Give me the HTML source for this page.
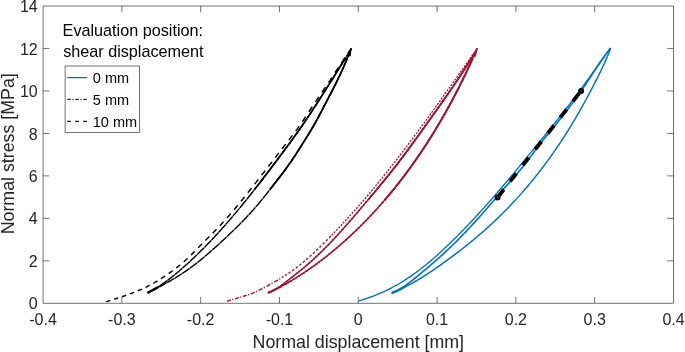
<!DOCTYPE html>
<html><head><meta charset="utf-8"><style>
html,body{margin:0;padding:0;background:#fff;}
svg{display:block;will-change:transform;}
text{font-family:"Liberation Sans",sans-serif;}
</style></head><body>
<svg xmlns="http://www.w3.org/2000/svg" width="685" height="352" viewBox="0 0 685 352">
<rect width="685" height="352" fill="#fff"/>
<g>
<path d="M106.19 301.78 106.19 301.78 106.76 301.60 107.33 301.41 107.91 301.23 108.48 301.05 109.05 300.86 109.63 300.68 110.20 300.50 110.34 300.45 M114.10 299.25 114.21 299.22 114.78 299.03 115.35 298.85 115.93 298.66 116.50 298.48 117.07 298.29 117.64 298.10 118.21 297.92 118.25 297.90 M122.01 296.66 122.21 296.59 122.78 296.40 123.35 296.20 123.92 296.01 124.48 295.81 125.05 295.62 125.62 295.42 126.15 295.23 M129.90 293.89 130.14 293.80 130.71 293.59 131.27 293.38 131.83 293.17 132.39 292.96 132.95 292.74 133.51 292.53 134.03 292.32 M137.77 290.82 137.96 290.74 138.51 290.51 139.07 290.28 139.62 290.04 140.17 289.81 140.72 289.57 141.26 289.33 141.81 289.09 141.88 289.05 M145.59 287.33 145.62 287.32 146.16 287.06 146.69 286.80 147.23 286.53 147.77 286.26 148.30 285.99 148.84 285.72 149.37 285.44 149.68 285.28 M153.36 283.27 153.59 283.14 154.11 282.84 154.63 282.55 155.15 282.24 155.67 281.94 156.19 281.63 156.70 281.32 157.22 281.01 157.41 280.90 M161.05 278.62 161.31 278.46 161.81 278.13 162.32 277.81 162.82 277.48 163.33 277.15 163.83 276.81 164.33 276.48 164.84 276.15 165.07 275.99 M168.68 273.52 168.82 273.43 169.31 273.08 169.80 272.74 170.29 272.39 170.78 272.04 171.27 271.69 171.76 271.34 172.24 270.98 172.66 270.68 M176.24 267.98 176.56 267.73 177.03 267.36 177.50 266.99 177.97 266.62 178.44 266.25 178.91 265.87 179.37 265.49 179.84 265.12 180.17 264.84 M183.70 261.84 183.95 261.63 184.40 261.23 184.84 260.83 185.29 260.43 185.73 260.03 186.17 259.62 186.62 259.22 187.06 258.81 187.49 258.40 187.56 258.34 M191.02 255.01 191.38 254.65 191.81 254.23 192.23 253.81 192.66 253.38 193.08 252.96 193.50 252.53 193.93 252.11 194.35 251.68 194.77 251.25 194.82 251.20 M198.24 247.71 198.56 247.38 198.98 246.95 199.40 246.52 199.82 246.10 200.24 245.67 200.67 245.24 201.09 244.81 201.51 244.38 201.93 243.95 202.03 243.85 M205.46 240.40 205.75 240.11 206.18 239.69 206.60 239.26 207.03 238.84 207.45 238.41 207.88 237.98 208.30 237.56 208.72 237.13 209.15 236.71 209.26 236.60 M212.69 233.14 212.96 232.87 213.38 232.44 213.80 232.01 214.23 231.58 214.65 231.15 215.07 230.72 215.49 230.29 215.90 229.86 216.32 229.43 216.48 229.27 M219.88 225.70 220.06 225.52 220.47 225.08 220.88 224.64 221.28 224.20 221.69 223.76 222.10 223.32 222.51 222.88 222.91 222.44 223.31 221.99 223.62 221.65 M226.98 217.89 227.31 217.51 227.71 217.06 228.11 216.61 228.50 216.16 228.89 215.70 229.29 215.25 229.68 214.79 230.07 214.34 230.46 213.88 230.67 213.64 M233.99 209.72 234.35 209.30 234.73 208.84 235.12 208.38 235.50 207.92 235.89 207.45 236.27 206.99 236.65 206.53 237.04 206.07 237.42 205.60 237.65 205.33 M240.94 201.31 241.23 200.96 241.61 200.49 241.99 200.03 242.37 199.56 242.75 199.09 243.13 198.63 243.50 198.16 243.88 197.69 244.26 197.23 244.57 196.84 M247.85 192.76 248.02 192.54 248.39 192.07 248.77 191.60 249.14 191.13 249.52 190.66 249.89 190.19 250.26 189.72 250.64 189.25 251.01 188.78 251.38 188.31 251.46 188.21 M254.72 184.08 254.73 184.06 255.10 183.59 255.47 183.12 255.85 182.64 256.22 182.17 256.59 181.70 256.96 181.22 257.33 180.75 257.70 180.28 258.07 179.80 258.32 179.48 M261.57 175.31 261.76 175.06 262.13 174.59 262.50 174.11 262.86 173.64 263.23 173.16 263.60 172.69 263.97 172.21 264.34 171.74 264.70 171.26 265.07 170.79 265.16 170.68 M268.40 166.48 268.75 166.03 269.11 165.56 269.48 165.08 269.85 164.60 270.22 164.13 270.58 163.65 270.95 163.18 271.32 162.70 271.68 162.23 271.98 161.84 M275.22 157.63 275.35 157.47 275.72 156.99 276.09 156.51 276.45 156.04 276.82 155.56 277.19 155.09 277.56 154.61 277.92 154.13 278.29 153.66 278.66 153.18 278.81 152.99 M282.05 148.79 282.33 148.43 282.70 147.95 283.07 147.48 283.44 147.00 283.81 146.53 284.17 146.05 284.54 145.58 284.91 145.11 285.28 144.63 285.64 144.17 M288.89 139.98 288.97 139.88 289.33 139.41 289.70 138.93 290.07 138.46 290.43 137.98 290.80 137.51 291.17 137.03 291.53 136.55 291.90 136.08 292.26 135.60 292.47 135.33 M295.69 131.06 295.88 130.81 296.23 130.32 296.59 129.84 296.95 129.36 297.30 128.87 297.66 128.39 298.01 127.90 298.36 127.41 298.71 126.93 299.06 126.44 299.22 126.22 M302.36 121.71 302.49 121.52 302.83 121.02 303.17 120.52 303.50 120.03 303.84 119.53 304.18 119.03 304.51 118.53 304.84 118.03 305.18 117.53 305.51 117.03 305.80 116.59 M308.89 111.89 309.13 111.51 309.46 111.00 309.79 110.50 310.12 110.00 310.45 109.49 310.78 108.99 311.11 108.49 311.44 107.99 311.77 107.48 312.10 106.98 312.29 106.68 M315.39 102.01 315.42 101.97 315.75 101.47 316.08 100.97 316.42 100.48 316.75 99.98 317.09 99.48 317.43 98.98 317.76 98.48 318.10 97.98 318.43 97.49 318.77 96.99 318.83 96.90 M321.95 92.30 322.14 92.01 322.48 91.52 322.81 91.02 323.15 90.52 323.49 90.02 323.82 89.53 324.16 89.03 324.50 88.53 324.83 88.03 325.17 87.53 325.39 87.20 M328.50 82.56 328.51 82.54 328.84 82.04 329.17 81.54 329.50 81.04 329.84 80.54 330.17 80.03 330.50 79.53 330.83 79.03 331.16 78.53 331.49 78.03 331.82 77.53 331.91 77.38 M335.00 72.68 335.12 72.50 335.45 72.00 335.78 71.50 336.11 71.00 336.44 70.49 336.77 69.99 337.10 69.49 337.43 68.99 337.76 68.49 338.09 67.98 338.41 67.49 M341.51 62.81 341.73 62.47 342.07 61.97 342.40 61.47 342.73 60.97 343.07 60.48 343.40 59.98 343.74 59.48 344.07 58.98 344.41 58.48 344.75 57.98 344.94 57.69 M348.07 53.12 348.14 53.02 348.48 52.53 348.82 52.04 349.17 51.54 349.51 51.05 349.86 50.56 350.20 50.07 350.55 49.58 350.89 49.09 351.24 48.59 351.24 48.59" fill="none" stroke="#000" stroke-width="1.45"/>
<path d="M148.22 292.44 149.66 291.71 151.09 290.96 152.50 290.19 153.90 289.40 155.29 288.59 156.67 287.77 158.03 286.92 159.38 286.05 160.73 285.17 162.06 284.28 163.38 283.37 164.69 282.44 165.99 281.50 167.28 280.55 168.57 279.58 169.84 278.60 171.11 277.61 172.37 276.61 173.62 275.61 174.87 274.59 176.10 273.56 177.34 272.53 178.57 271.49 179.79 270.44 181.01 269.39 182.22 268.33 183.43 267.27 184.63 266.21 185.83 265.14 187.02 264.06 188.21 262.98 189.40 261.89 190.58 260.80 191.76 259.71 192.93 258.61 194.10 257.50 195.27 256.40 196.43 255.28 197.58 254.17 198.73 253.04 199.88 251.92 201.03 250.79 202.17 249.66 203.30 248.52 204.43 247.38 205.56 246.23 206.69 245.08 207.81 243.93 208.92 242.77 210.04 241.61 211.15 240.45 212.25 239.28 213.35 238.11 214.45 236.93 215.55 235.75 216.64 234.57 217.73 233.39 218.81 232.20 219.89 231.01 220.97 229.81 222.05 228.62 223.12 227.42 224.18 226.21 225.25 225.01 226.31 223.80 227.37 222.59 228.43 221.37 229.48 220.15 230.53 218.93 231.57 217.71 232.62 216.49 233.66 215.26 234.70 214.03 235.73 212.80 236.76 211.57 237.79 210.33 238.82 209.09 239.84 207.85 240.87 206.61 241.89 205.36 242.90 204.12 243.92 202.87 244.93 201.62 245.94 200.37 246.94 199.12 247.95 197.86 248.95 196.60 249.95 195.35 250.95 194.09 251.95 192.83 252.94 191.56 253.93 190.30 254.92 189.03 255.91 187.77 256.90 186.50 257.89 185.23 258.87 183.96 259.86 182.69 260.84 181.42 261.82 180.14 262.80 178.87 263.77 177.59 264.75 176.32 265.73 175.04 266.70 173.76 267.68 172.48 268.65 171.20 269.62 169.92 270.59 168.64 271.56 167.36 272.54 166.08 273.50 164.80 274.47 163.52 275.44 162.23 276.41 160.95 277.38 159.66 278.35 158.38 279.31 157.09 280.28 155.81 281.24 154.52 282.20 153.23 283.16 151.94 284.12 150.65 285.08 149.36 286.04 148.07 286.99 146.77 287.95 145.48 288.90 144.18 289.85 142.88 290.80 141.58 291.74 140.28 292.68 138.98 293.62 137.68 294.56 136.37 295.50 135.06 296.43 133.75 297.36 132.44 298.29 131.13 299.22 129.82 300.14 128.50 301.06 127.18 301.98 125.86 302.89 124.54 303.80 123.21 304.71 121.89 305.61 120.56 306.51 119.22 307.41 117.89 308.30 116.56 309.20 115.22 310.09 113.88 310.97 112.54 311.86 111.20 312.74 109.86 313.62 108.51 314.50 107.16 315.38 105.82 316.25 104.47 317.13 103.12 318.00 101.77 318.87 100.42 319.74 99.06 320.60 97.71 321.47 96.35 322.33 95.00 323.20 93.64 324.06 92.28 324.92 90.93 325.78 89.57 326.64 88.21 327.50 86.85 328.36 85.49 329.22 84.13 330.08 82.77 330.93 81.41 331.79 80.05 332.65 78.69 333.50 77.33 334.36 75.97 335.21 74.60 336.07 73.24 336.92 71.88 337.77 70.51 338.62 69.15 339.47 67.79 340.32 66.42 341.17 65.05 342.02 63.69 342.87 62.32 343.71 60.95 344.55 59.58 345.40 58.21 346.24 56.84 347.08 55.47 347.92 54.10 348.75 52.73 349.59 51.35 350.42 49.98 351.26 48.60" fill="none" stroke="#000" stroke-width="0.60" stroke-linejoin="round"/>
<path d="M148.22 292.44 148.22 292.44 148.70 292.20 149.18 291.96 149.65 291.71 150.13 291.47 150.60 291.22 151.08 290.97 151.55 290.71 151.91 290.52 M155.96 288.19 156.18 288.06 156.64 287.78 157.09 287.50 157.55 287.22 158.00 286.94 158.45 286.65 158.90 286.36 159.35 286.08 159.61 285.91 M163.61 283.20 163.77 283.09 164.20 282.78 164.64 282.48 165.07 282.16 165.50 281.85 165.93 281.54 166.36 281.22 166.79 280.91 167.20 280.60 M171.15 277.58 171.46 277.34 171.87 277.01 172.29 276.67 172.71 276.34 173.12 276.00 173.54 275.67 173.95 275.33 174.37 274.99 174.71 274.72 M178.61 271.45 178.88 271.22 179.28 270.87 179.69 270.53 180.09 270.18 180.50 269.83 180.90 269.48 181.31 269.13 181.71 268.78 182.11 268.43 182.13 268.41 M186.01 264.98 186.11 264.88 186.51 264.52 186.90 264.17 187.30 263.81 187.70 263.45 188.09 263.09 188.49 262.73 188.88 262.37 189.27 262.01 189.50 261.80 M193.34 258.22 193.57 258.00 193.96 257.64 194.35 257.27 194.73 256.90 195.12 256.53 195.51 256.16 195.89 255.79 196.28 255.42 196.66 255.05 196.81 254.91 M200.62 251.19 200.86 250.95 201.24 250.57 201.62 250.19 202.00 249.82 202.38 249.44 202.76 249.06 203.13 248.68 203.51 248.31 203.89 247.93 204.06 247.75 M207.85 243.89 208.00 243.73 208.37 243.34 208.74 242.96 209.11 242.57 209.48 242.19 209.85 241.80 210.22 241.42 210.59 241.03 210.96 240.64 211.25 240.33 M215.01 236.33 215.35 235.97 215.71 235.58 216.07 235.19 216.43 234.79 216.80 234.40 217.16 234.01 217.52 233.61 217.88 233.22 218.24 232.82 218.39 232.66 M222.11 228.54 222.18 228.46 222.54 228.06 222.89 227.66 223.25 227.26 223.60 226.87 223.96 226.47 224.31 226.07 224.67 225.66 225.02 225.26 225.38 224.86 225.47 224.76 M229.16 220.52 229.24 220.43 229.59 220.03 229.94 219.62 230.29 219.22 230.63 218.81 230.98 218.40 231.33 218.00 231.68 217.59 232.02 217.18 232.37 216.78 232.49 216.64 M236.16 212.29 236.16 212.28 236.51 211.87 236.85 211.46 237.19 211.05 237.53 210.64 237.87 210.23 238.22 209.82 238.56 209.41 238.90 209.00 239.24 208.59 239.46 208.31 M243.10 203.87 243.30 203.63 243.64 203.21 243.97 202.80 244.31 202.38 244.65 201.97 244.98 201.55 245.32 201.14 245.65 200.72 245.99 200.30 246.32 199.89 246.38 199.81 M250.00 195.28 250.32 194.88 250.65 194.46 250.98 194.04 251.32 193.62 251.65 193.21 251.98 192.79 252.31 192.37 252.64 191.95 252.97 191.53 253.26 191.15 M256.86 186.55 256.92 186.48 257.24 186.06 257.57 185.64 257.90 185.22 258.23 184.79 258.55 184.37 258.88 183.95 259.21 183.53 259.53 183.11 259.86 182.68 260.11 182.37 M263.69 177.71 263.77 177.60 264.09 177.18 264.42 176.76 264.74 176.33 265.06 175.91 265.39 175.48 265.71 175.06 266.04 174.64 266.36 174.21 266.68 173.79 266.92 173.48 M270.49 168.78 270.56 168.68 270.89 168.26 271.21 167.83 271.53 167.41 271.85 166.98 272.18 166.56 272.50 166.13 272.82 165.70 273.14 165.28 273.46 164.85 273.71 164.52 M277.27 159.80 277.33 159.73 277.65 159.31 277.97 158.88 278.29 158.45 278.61 158.03 278.93 157.60 279.25 157.17 279.57 156.74 279.89 156.32 280.21 155.89 280.49 155.52 M284.04 150.76 284.05 150.75 284.37 150.32 284.68 149.89 285.00 149.46 285.32 149.03 285.64 148.61 285.96 148.18 286.27 147.75 286.59 147.32 286.91 146.89 287.23 146.46 287.25 146.43 M290.78 141.61 291.01 141.28 291.33 140.85 291.64 140.42 291.95 139.99 292.27 139.55 292.58 139.12 292.89 138.69 293.21 138.26 293.52 137.82 293.83 137.39 293.96 137.21 M297.46 132.30 297.56 132.17 297.86 131.74 298.17 131.30 298.48 130.86 298.79 130.43 299.10 129.99 299.40 129.55 299.71 129.12 300.02 128.68 300.32 128.24 300.62 127.81 M304.09 122.79 304.27 122.53 304.57 122.09 304.87 121.65 305.17 121.20 305.47 120.76 305.77 120.32 306.07 119.88 306.37 119.44 306.67 118.99 306.97 118.55 307.21 118.19 M310.64 113.05 310.82 112.78 311.11 112.33 311.41 111.88 311.70 111.44 312.00 110.99 312.29 110.55 312.58 110.10 312.88 109.65 313.17 109.21 313.46 108.76 313.73 108.36 M317.12 103.12 317.24 102.94 317.53 102.49 317.82 102.04 318.11 101.59 318.40 101.14 318.69 100.69 318.98 100.24 319.27 99.79 319.56 99.34 319.84 98.90 320.13 98.45 320.19 98.36 M323.56 93.06 323.58 93.04 323.87 92.59 324.15 92.14 324.44 91.69 324.72 91.24 325.01 90.79 325.30 90.33 325.58 89.88 325.87 89.43 326.15 88.98 326.44 88.53 326.61 88.25 M329.98 82.93 330.15 82.66 330.43 82.21 330.72 81.75 331.00 81.30 331.29 80.85 331.57 80.40 331.86 79.95 332.14 79.49 332.43 79.04 332.71 78.59 332.99 78.14 333.02 78.10 M336.38 72.75 336.40 72.71 336.69 72.25 336.97 71.80 337.25 71.35 337.53 70.89 337.82 70.44 338.10 69.99 338.38 69.53 338.67 69.08 338.95 68.63 339.23 68.17 339.41 67.89 M342.75 62.50 342.89 62.27 343.17 61.82 343.46 61.37 343.74 60.91 344.02 60.46 344.30 60.00 344.58 59.55 344.86 59.09 345.14 58.64 345.42 58.18 345.70 57.73 345.77 57.61 M349.10 52.17 349.32 51.80 349.60 51.35 349.87 50.89 350.15 50.43 350.43 49.98 350.70 49.52 350.98 49.06 351.26 48.60 351.26 48.60" fill="none" stroke="#000" stroke-width="1.40"/>
<path d="M148.22 292.44 148.22 292.44 148.31 292.39 M152.39 290.25 152.49 290.20 152.95 289.94 153.42 289.68 153.88 289.41 154.35 289.14 154.81 288.88 155.27 288.61 155.73 288.33 156.06 288.13 M160.08 285.60 160.24 285.49 160.69 285.20 161.13 284.90 161.57 284.61 162.01 284.31 162.45 284.01 162.89 283.70 163.33 283.40 163.70 283.14 M167.67 280.25 168.08 279.95 168.50 279.63 168.93 279.30 169.35 278.98 169.77 278.65 170.19 278.33 170.62 278.00 171.04 277.67 171.25 277.50 M175.17 274.33 175.19 274.32 175.61 273.97 176.02 273.63 176.43 273.29 176.84 272.95 177.25 272.60 177.66 272.26 178.06 271.91 178.47 271.57 178.71 271.37 M182.59 268.00 182.92 267.72 183.32 267.37 183.72 267.02 184.12 266.66 184.52 266.31 184.92 265.95 185.31 265.60 185.71 265.24 186.10 264.89 M189.96 261.38 190.06 261.28 190.45 260.92 190.84 260.56 191.23 260.20 191.63 259.83 192.02 259.47 192.41 259.10 192.80 258.74 193.18 258.37 193.44 258.13 M197.26 254.47 197.43 254.31 197.81 253.94 198.20 253.57 198.58 253.19 198.96 252.82 199.34 252.45 199.72 252.07 200.10 251.70 200.48 251.32 200.71 251.10 M204.51 247.29 204.64 247.17 205.01 246.79 205.39 246.41 205.76 246.02 206.14 245.64 206.51 245.26 206.88 244.88 207.25 244.50 207.63 244.11 207.94 243.79 M211.70 239.86 212.06 239.48 212.43 239.09 212.79 238.70 213.16 238.31 213.52 237.92 213.89 237.53 214.25 237.14 214.62 236.75 214.98 236.36 215.10 236.24 M218.83 232.17 218.96 232.03 219.32 231.64 219.68 231.24 220.04 230.85 220.40 230.45 220.75 230.05 221.11 229.66 221.47 229.26 221.83 228.86 222.18 228.46 222.20 228.44 M225.91 224.26 226.08 224.06 226.43 223.66 226.78 223.26 227.14 222.85 227.49 222.45 227.84 222.05 228.19 221.64 228.54 221.24 228.89 220.83 229.24 220.43 229.25 220.42 M232.93 216.12 233.06 215.96 233.41 215.56 233.75 215.15 234.10 214.74 234.44 214.33 234.79 213.92 235.13 213.51 235.48 213.10 235.82 212.69 236.16 212.28 236.24 212.19 M239.90 207.79 239.92 207.76 240.26 207.35 240.60 206.94 240.94 206.52 241.27 206.11 241.61 205.70 241.95 205.28 242.29 204.87 242.63 204.46 242.96 204.04 243.19 203.77 M246.82 199.28 246.99 199.06 247.33 198.64 247.66 198.22 247.99 197.80 248.33 197.39 248.66 196.97 248.99 196.55 249.32 196.13 249.66 195.72 249.99 195.30 250.09 195.18 M253.69 190.61 253.96 190.27 254.29 189.85 254.62 189.43 254.95 189.01 255.27 188.59 255.60 188.17 255.93 187.74 256.26 187.32 256.59 186.90 256.92 186.48 256.94 186.44 M260.53 181.81 260.84 181.42 261.16 180.99 261.49 180.57 261.82 180.15 262.14 179.72 262.47 179.30 262.79 178.88 263.12 178.45 263.44 178.03 263.77 177.60 263.77 177.60 M267.34 172.92 267.66 172.51 267.98 172.09 268.30 171.66 268.63 171.24 268.95 170.81 269.27 170.39 269.59 169.96 269.92 169.54 270.24 169.11 270.56 168.68 270.57 168.67 M274.14 163.96 274.43 163.57 274.75 163.15 275.07 162.72 275.40 162.29 275.72 161.87 276.04 161.44 276.36 161.01 276.68 160.59 277.00 160.16 277.33 159.73 277.36 159.69 M280.91 154.95 281.17 154.61 281.49 154.18 281.81 153.75 282.13 153.32 282.45 152.89 282.77 152.47 283.09 152.04 283.41 151.61 283.73 151.18 284.05 150.75 284.13 150.65 M287.67 145.86 287.86 145.60 288.18 145.16 288.49 144.73 288.81 144.30 289.12 143.87 289.44 143.44 289.75 143.01 290.07 142.58 290.38 142.15 290.70 141.72 290.86 141.49 M294.38 136.63 294.46 136.52 294.77 136.09 295.08 135.65 295.39 135.22 295.70 134.78 296.01 134.35 296.32 133.91 296.63 133.48 296.94 133.04 297.25 132.61 297.55 132.18 M301.03 127.22 301.24 126.93 301.54 126.49 301.85 126.05 302.15 125.61 302.45 125.17 302.76 124.73 303.06 124.29 303.36 123.85 303.66 123.41 303.97 122.97 304.17 122.67 M307.62 117.58 307.86 117.22 308.16 116.78 308.45 116.33 308.75 115.89 309.05 115.45 309.34 115.00 309.64 114.56 309.93 114.11 310.23 113.67 310.52 113.22 310.72 112.93 M314.13 107.73 314.34 107.42 314.63 106.97 314.92 106.52 315.21 106.08 315.50 105.63 315.79 105.18 316.08 104.73 316.37 104.28 316.66 103.84 316.95 103.39 317.20 103.00 M320.59 97.73 320.71 97.55 321.00 97.10 321.28 96.65 321.57 96.20 321.86 95.74 322.15 95.29 322.43 94.84 322.72 94.39 323.01 93.94 323.29 93.49 323.58 93.04 323.65 92.94 M327.01 87.62 327.30 87.17 327.58 86.72 327.87 86.27 328.15 85.82 328.44 85.37 328.72 84.92 329.01 84.46 329.29 84.01 329.58 83.56 329.86 83.11 330.06 82.80 M333.42 77.46 333.56 77.23 333.85 76.78 334.13 76.33 334.42 75.87 334.70 75.42 334.98 74.97 335.27 74.52 335.55 74.06 335.83 73.61 336.12 73.16 336.40 72.71 336.46 72.62 M339.81 67.25 340.08 66.81 340.36 66.36 340.64 65.91 340.92 65.45 341.21 65.00 341.49 64.55 341.77 64.09 342.05 63.64 342.33 63.18 342.61 62.73 342.83 62.37 M346.17 56.96 346.26 56.82 346.53 56.36 346.81 55.91 347.09 55.45 347.37 54.99 347.65 54.54 347.93 54.08 348.21 53.63 348.48 53.17 348.76 52.71 349.04 52.26 349.17 52.04" fill="none" stroke="#000" stroke-width="1.40"/>
<path d="M148.19 292.37 149.65 291.65 151.11 290.94 152.56 290.21 154.02 289.49 155.47 288.75 156.92 288.01 158.37 287.27 159.82 286.51 161.26 285.75 162.70 284.99 164.13 284.21 165.57 283.43 166.99 282.64 168.42 281.85 169.84 281.04 171.25 280.23 172.66 279.41 174.06 278.58 175.46 277.74 176.85 276.89 178.24 276.03 179.62 275.17 180.99 274.29 182.36 273.40 183.72 272.50 185.07 271.60 186.41 270.68 187.75 269.75 189.07 268.81 190.39 267.85 191.70 266.89 193.01 265.92 194.30 264.94 195.59 263.95 196.88 262.95 198.15 261.94 199.42 260.92 200.69 259.90 201.95 258.87 203.20 257.83 204.45 256.78 205.69 255.73 206.93 254.68 208.17 253.61 209.40 252.55 210.63 251.47 211.85 250.40 213.07 249.31 214.29 248.23 215.50 247.14 216.71 246.05 217.92 244.96 219.13 243.86 220.33 242.76 221.54 241.66 222.74 240.56 223.94 239.45 225.13 238.34 226.32 237.23 227.51 236.11 228.70 234.99 229.88 233.87 231.06 232.75 232.24 231.62 233.41 230.48 234.58 229.35 235.74 228.21 236.90 227.06 238.06 225.92 239.21 224.76 240.36 223.61 241.50 222.45 242.63 221.28 243.77 220.11 244.89 218.94 246.01 217.76 247.13 216.57 248.24 215.38 249.34 214.19 250.44 212.98 251.53 211.78 252.62 210.57 253.70 209.35 254.77 208.13 255.84 206.90 256.90 205.66 257.95 204.42 259.00 203.17 260.04 201.92 261.07 200.66 262.10 199.40 263.12 198.13 264.14 196.86 265.16 195.59 266.17 194.31 267.18 193.03 268.18 191.75 269.19 190.47 270.19 189.18 271.20 187.90 272.20 186.61 273.20 185.33 274.20 184.04 275.21 182.76 276.21 181.48 277.21 180.19 278.21 178.91 279.21 177.62 280.21 176.33 281.20 175.04 282.19 173.74 283.17 172.45 284.15 171.15 285.12 169.84 286.08 168.53 287.04 167.21 287.99 165.89 288.93 164.57 289.87 163.23 290.79 161.89 291.71 160.55 292.62 159.20 293.52 157.84 294.42 156.49 295.31 155.12 296.20 153.76 297.08 152.39 297.96 151.02 298.84 149.65 299.71 148.27 300.58 146.90 301.46 145.52 302.33 144.14 303.20 142.77 304.07 141.39 304.94 140.01 305.81 138.63 306.67 137.25 307.53 135.87 308.39 134.48 309.24 133.09 310.08 131.70 310.92 130.30 311.75 128.91 312.58 127.50 313.39 126.10 314.20 124.68 315.00 123.27 315.80 121.85 316.58 120.42 317.36 118.99 318.13 117.56 318.90 116.12 319.66 114.69 320.42 113.25 321.18 111.80 321.93 110.36 322.68 108.92 323.43 107.47 324.19 106.03 324.94 104.58 325.70 103.14 326.45 101.70 327.21 100.25 327.96 98.81 328.72 97.37 329.47 95.92 330.22 94.48 330.97 93.03 331.72 91.58 332.47 90.14 333.21 88.68 333.95 87.23 334.68 85.78 335.41 84.32 336.13 82.86 336.85 81.40 337.56 79.94 338.27 78.47 338.97 77.00 339.67 75.53 340.36 74.05 341.04 72.58 341.72 71.10 342.40 69.62 343.07 68.13 343.73 66.64 344.38 65.15 345.04 63.66 345.68 62.16 346.32 60.67 346.95 59.17 347.58 57.66 348.20 56.16 348.82 54.65 349.43 53.14 350.04 51.63 350.64 50.11 351.24 48.60" fill="none" stroke="#000" stroke-width="0.50" stroke-linejoin="round"/>
<path d="M148.19 292.37 148.19 292.37 148.67 292.13 149.16 291.89 149.64 291.66 150.13 291.42 150.61 291.18 150.92 291.03 M155.01 288.99 155.45 288.76 155.93 288.52 156.41 288.27 156.89 288.03 157.37 287.78 157.85 287.53 158.34 287.28 158.70 287.09 M162.78 284.94 163.13 284.76 163.60 284.50 164.08 284.24 164.56 283.98 165.03 283.72 165.51 283.46 165.98 283.20 166.46 282.94 M170.52 280.65 170.71 280.54 171.18 280.27 171.64 280.00 172.11 279.73 172.58 279.46 173.05 279.18 173.51 278.90 173.98 278.63 174.18 278.51 M178.21 276.05 178.60 275.81 179.06 275.52 179.52 275.23 179.97 274.94 180.43 274.65 180.89 274.36 181.34 274.06 181.80 273.77 181.85 273.73 M185.86 271.05 186.29 270.76 186.73 270.45 187.18 270.14 187.62 269.83 188.06 269.52 188.50 269.21 188.94 268.90 189.38 268.58 189.47 268.52 M193.43 265.60 193.73 265.37 194.16 265.05 194.59 264.72 195.02 264.39 195.45 264.06 195.87 263.73 196.30 263.40 196.73 263.06 197.01 262.84 M200.93 259.70 200.95 259.69 201.36 259.34 201.78 259.00 202.20 258.66 202.62 258.31 203.03 257.97 203.45 257.62 203.86 257.27 204.28 256.93 204.47 256.76 M208.37 253.44 208.40 253.42 208.80 253.06 209.21 252.71 209.62 252.35 210.03 251.99 210.44 251.64 210.84 251.28 211.25 250.92 211.66 250.56 211.88 250.37 M215.75 246.91 216.10 246.60 216.51 246.24 216.91 245.87 217.31 245.51 217.71 245.15 218.11 244.78 218.51 244.42 218.92 244.05 219.25 243.75 M223.10 240.22 223.31 240.03 223.71 239.66 224.11 239.29 224.50 238.92 224.90 238.55 225.30 238.19 225.69 237.82 226.09 237.45 226.49 237.08 226.58 236.98 M230.42 233.36 230.42 233.36 230.81 232.98 231.21 232.61 231.60 232.23 231.99 231.86 232.38 231.48 232.77 231.11 233.16 230.73 233.54 230.35 233.88 230.03 M237.69 226.28 237.79 226.18 238.18 225.80 238.56 225.42 238.94 225.03 239.32 224.65 239.70 224.27 240.08 223.88 240.46 223.50 240.84 223.11 241.12 222.83 M244.90 218.93 244.98 218.84 245.36 218.45 245.73 218.05 246.10 217.66 246.47 217.27 246.84 216.88 247.21 216.48 247.58 216.09 247.95 215.69 248.30 215.32 M252.03 211.23 252.32 210.90 252.68 210.50 253.04 210.09 253.40 209.69 253.76 209.28 254.12 208.88 254.47 208.47 254.83 208.06 255.18 207.65 255.38 207.43 M259.05 203.11 259.38 202.71 259.73 202.29 260.07 201.88 260.42 201.46 260.76 201.04 261.10 200.62 261.44 200.20 261.79 199.78 262.13 199.36 262.34 199.09 M265.96 194.57 266.18 194.29 266.52 193.87 266.85 193.44 267.19 193.02 267.52 192.59 267.86 192.16 268.19 191.74 268.53 191.31 268.86 190.89 269.19 190.46 269.22 190.43 M272.82 185.82 272.86 185.76 273.19 185.34 273.53 184.91 273.86 184.48 274.19 184.06 274.53 183.63 274.86 183.20 275.19 182.78 275.53 182.35 275.86 181.93 276.07 181.66 M279.66 177.04 279.85 176.80 280.18 176.37 280.51 175.94 280.84 175.51 281.16 175.08 281.49 174.65 281.82 174.22 282.15 173.79 282.48 173.36 282.80 172.93 282.89 172.81 M286.44 168.04 286.67 167.72 286.99 167.29 287.31 166.85 287.62 166.41 287.94 165.97 288.25 165.53 288.56 165.09 288.88 164.65 289.19 164.21 289.50 163.76 289.61 163.60 M293.06 158.53 293.15 158.40 293.45 157.95 293.75 157.50 294.04 157.05 294.34 156.60 294.64 156.14 294.94 155.69 295.23 155.24 295.53 154.79 295.82 154.33 296.12 153.88 296.15 153.83 M299.53 148.55 299.62 148.41 299.91 147.95 300.20 147.50 300.49 147.04 300.78 146.58 301.07 146.13 301.36 145.67 301.65 145.21 301.94 144.75 302.23 144.30 302.52 143.84 302.58 143.75 M305.94 138.41 305.99 138.34 306.27 137.89 306.56 137.43 306.85 136.97 307.13 136.51 307.42 136.05 307.70 135.59 307.99 135.13 308.27 134.67 308.55 134.21 308.84 133.75 308.97 133.53 M312.27 128.03 312.45 127.72 312.72 127.25 313.00 126.78 313.27 126.31 313.54 125.85 313.81 125.38 314.08 124.91 314.34 124.44 314.61 123.97 314.87 123.50 315.14 123.03 315.20 122.91 M318.38 117.09 318.51 116.86 318.76 116.38 319.01 115.90 319.27 115.42 319.52 114.95 319.77 114.47 320.03 113.99 320.28 113.51 320.53 113.03 320.78 112.55 321.03 112.08 321.22 111.72 M324.33 105.75 324.54 105.36 324.79 104.88 325.04 104.40 325.29 103.92 325.54 103.44 325.79 102.96 326.04 102.48 326.29 102.00 326.54 101.52 326.79 101.04 327.04 100.56 327.15 100.35 M330.27 94.39 330.30 94.33 330.55 93.85 330.80 93.37 331.05 92.89 331.30 92.41 331.55 91.92 331.79 91.44 332.04 90.96 332.29 90.48 332.54 90.00 332.78 89.52 333.03 89.04 333.07 88.95 M336.13 82.85 336.19 82.75 336.42 82.26 336.66 81.78 336.90 81.29 337.14 80.81 337.37 80.32 337.61 79.83 337.85 79.35 338.08 78.86 338.32 78.37 338.55 77.88 338.78 77.40 338.86 77.23 M341.81 70.90 341.98 70.53 342.20 70.04 342.43 69.55 342.65 69.05 342.87 68.56 343.09 68.07 343.31 67.57 343.53 67.08 343.75 66.58 343.97 66.09 344.19 65.59 344.41 65.10 344.43 65.06 M347.25 58.46 347.38 58.13 347.59 57.63 347.80 57.13 348.01 56.63 348.21 56.13 348.42 55.63 348.62 55.13 348.83 54.63 349.03 54.13 349.24 53.63 349.44 53.12 349.64 52.62 349.74 52.38" fill="none" stroke="#000" stroke-width="1.40"/>
<path d="M151.50 290.74 151.58 290.70 152.06 290.46 152.55 290.22 153.03 289.98 153.52 289.74 154.00 289.50 154.48 289.25 154.96 289.01 155.20 288.89 M159.28 286.79 159.30 286.78 159.78 286.53 160.26 286.28 160.74 286.03 161.21 285.78 161.69 285.52 162.17 285.27 162.65 285.01 162.97 284.84 M167.04 282.62 167.40 282.41 167.88 282.15 168.35 281.88 168.82 281.62 169.29 281.35 169.77 281.08 170.24 280.81 170.71 280.54 170.71 280.54 M174.76 278.16 174.91 278.07 175.37 277.79 175.84 277.51 176.30 277.23 176.76 276.95 177.22 276.66 177.68 276.38 178.14 276.09 178.41 275.93 M182.43 273.35 182.70 273.18 183.15 272.88 183.60 272.58 184.05 272.28 184.50 271.98 184.95 271.67 185.40 271.37 185.84 271.06 186.05 270.92 M190.03 268.11 190.26 267.95 190.70 267.63 191.13 267.31 191.57 266.99 192.00 266.67 192.43 266.35 192.87 266.02 193.30 265.70 193.62 265.45 M197.57 262.40 197.57 262.40 198.00 262.06 198.42 261.72 198.84 261.39 199.27 261.05 199.69 260.71 200.11 260.37 200.53 260.03 200.95 259.69 201.12 259.54 M205.03 256.29 205.11 256.23 205.52 255.88 205.93 255.53 206.34 255.18 206.75 254.83 207.17 254.48 207.58 254.12 207.99 253.77 208.40 253.42 208.55 253.28 M212.44 249.87 212.47 249.85 212.87 249.49 213.28 249.13 213.68 248.77 214.09 248.41 214.49 248.05 214.89 247.68 215.30 247.32 215.70 246.96 215.94 246.75 M219.80 243.25 220.12 242.96 220.52 242.59 220.92 242.23 221.32 241.86 221.72 241.50 222.12 241.13 222.51 240.76 222.91 240.39 223.29 240.05 M227.13 236.47 227.28 236.34 227.67 235.96 228.06 235.59 228.46 235.22 228.85 234.85 229.25 234.48 229.64 234.10 230.03 233.73 230.42 233.36 230.60 233.18 M234.43 229.50 234.71 229.22 235.10 228.84 235.48 228.46 235.87 228.08 236.25 227.70 236.64 227.32 237.02 226.94 237.41 226.56 237.79 226.18 237.87 226.10 M241.66 222.28 241.98 221.95 242.36 221.56 242.73 221.18 243.11 220.79 243.49 220.40 243.86 220.01 244.24 219.62 244.61 219.23 244.98 218.84 245.08 218.74 M248.83 214.74 249.05 214.50 249.42 214.10 249.78 213.70 250.15 213.31 250.51 212.91 250.88 212.51 251.24 212.10 251.60 211.70 251.96 211.30 252.20 211.03 M255.90 206.82 256.24 206.43 256.59 206.02 256.95 205.61 257.30 205.19 257.65 204.78 257.99 204.37 258.34 203.95 258.69 203.54 259.04 203.12 259.22 202.90 M262.86 198.45 263.15 198.10 263.49 197.68 263.82 197.26 264.16 196.83 264.50 196.41 264.84 195.99 265.17 195.56 265.51 195.14 265.85 194.72 266.13 194.35 M269.73 189.77 269.86 189.61 270.19 189.18 270.53 188.75 270.86 188.33 271.19 187.90 271.53 187.47 271.86 187.05 272.19 186.62 272.53 186.19 272.86 185.76 272.99 185.60 M276.58 181.00 276.86 180.65 277.19 180.22 277.52 179.79 277.86 179.36 278.19 178.94 278.52 178.51 278.85 178.08 279.18 177.65 279.51 177.23 279.83 176.82 M283.40 172.14 283.45 172.07 283.78 171.64 284.10 171.20 284.43 170.77 284.75 170.34 285.07 169.90 285.39 169.47 285.71 169.03 286.03 168.60 286.35 168.16 286.61 167.81 M290.11 162.88 290.11 162.88 290.42 162.43 290.73 161.99 291.03 161.54 291.34 161.09 291.64 160.65 291.94 160.20 292.25 159.75 292.55 159.30 292.85 158.85 293.15 158.40 293.23 158.28 M296.63 153.08 296.70 152.97 297.00 152.52 297.29 152.06 297.58 151.60 297.88 151.15 298.17 150.69 298.46 150.24 298.75 149.78 299.04 149.32 299.33 148.87 299.62 148.41 299.69 148.30 M303.06 142.99 303.10 142.93 303.39 142.47 303.68 142.01 303.97 141.55 304.26 141.09 304.55 140.64 304.83 140.18 305.12 139.72 305.41 139.26 305.70 138.80 305.99 138.34 306.10 138.16 M309.44 132.75 309.68 132.36 309.96 131.90 310.24 131.43 310.52 130.97 310.80 130.51 311.08 130.04 311.35 129.58 311.63 129.11 311.90 128.65 312.18 128.18 312.43 127.76 M315.66 122.09 315.66 122.08 315.93 121.61 316.19 121.13 316.45 120.66 316.71 120.19 316.97 119.71 317.22 119.24 317.48 118.76 317.74 118.29 318.00 117.81 318.25 117.33 318.51 116.86 318.53 116.81 M321.66 110.87 321.78 110.64 322.04 110.16 322.29 109.68 322.54 109.20 322.79 108.72 323.04 108.24 323.29 107.76 323.54 107.28 323.79 106.80 324.04 106.32 324.29 105.84 324.48 105.47 M327.60 99.50 327.80 99.13 328.05 98.65 328.30 98.17 328.55 97.69 328.80 97.21 329.05 96.73 329.30 96.25 329.55 95.77 329.80 95.29 330.05 94.81 330.30 94.33 330.42 94.10 M333.51 88.08 333.52 88.07 333.76 87.59 334.01 87.11 334.25 86.62 334.50 86.14 334.74 85.66 334.98 85.17 335.22 84.69 335.47 84.20 335.71 83.72 335.95 83.23 336.19 82.75 336.28 82.56 M339.28 76.34 339.48 75.93 339.71 75.44 339.94 74.95 340.17 74.46 340.40 73.97 340.62 73.48 340.85 72.99 341.08 72.50 341.31 72.01 341.53 71.52 341.76 71.02 341.95 70.60 M344.83 64.12 344.84 64.11 345.06 63.61 345.27 63.11 345.49 62.62 345.70 62.12 345.91 61.62 346.12 61.12 346.34 60.63 346.55 60.13 346.76 59.63 346.97 59.13 347.18 58.63 347.38 58.14 M350.13 51.41 350.25 51.11 350.45 50.61 350.65 50.11 350.84 49.60 351.04 49.10 351.24 48.60 351.24 48.60" fill="none" stroke="#000" stroke-width="1.40"/>
<path d="M227.07 301.21 227.07 301.21 227.63 301.02 228.19 300.83 228.76 300.64 229.33 300.46 229.89 300.28 230.46 300.10 230.92 299.96 M232.21 299.56 232.74 299.41 233.31 299.24 233.40 299.21 M234.98 298.75 235.03 298.74 235.60 298.57 236.18 298.40 236.75 298.24 237.32 298.08 237.90 297.91 238.47 297.75 238.85 297.64 M240.13 297.27 240.19 297.25 240.76 297.09 241.32 296.92 M242.91 296.45 243.05 296.41 243.62 296.24 244.19 296.06 244.76 295.89 245.32 295.71 245.89 295.53 246.46 295.35 246.77 295.24 M248.05 294.82 248.15 294.78 248.71 294.59 249.23 294.40 M250.81 293.82 250.94 293.78 251.49 293.57 252.04 293.35 252.59 293.13 253.14 292.91 253.69 292.68 254.23 292.45 254.64 292.27 M255.91 291.70 256.40 291.48 256.93 291.23 257.09 291.16 M258.65 290.41 259.07 290.20 259.61 289.94 260.14 289.68 260.67 289.41 261.20 289.14 261.73 288.87 262.26 288.60 262.44 288.50 M263.70 287.84 263.84 287.77 264.37 287.50 264.87 287.23 M266.42 286.41 266.48 286.38 267.00 286.10 267.53 285.82 268.05 285.53 268.58 285.25 269.10 284.97 269.63 284.68 270.15 284.39 270.20 284.37 M271.46 283.67 271.72 283.53 272.24 283.24 272.62 283.03 M274.16 282.16 274.32 282.07 274.84 281.77 275.35 281.48 275.87 281.18 276.39 280.88 276.90 280.58 277.42 280.28 277.93 279.98 M279.18 279.24 279.47 279.06 279.98 278.75 280.33 278.54 M281.87 277.60 282.02 277.51 282.53 277.19 283.03 276.88 283.54 276.56 283.54 276.56" fill="none" stroke="#A2142F" stroke-width="1.45"/>
<path d="M285.08 275.58 285.08 275.58 285.58 275.26 286.08 274.94 286.58 274.61 286.84 274.44 M288.42 273.39 288.56 273.29 289.05 272.96 289.54 272.62 290.03 272.28 290.52 271.94 290.56 271.92 M292.12 270.82 292.47 270.57 292.95 270.23 293.43 269.88 293.92 269.53 294.22 269.30 M295.75 268.16 295.82 268.11 296.30 267.75 296.77 267.39 297.24 267.02 297.71 266.66 297.81 266.58 M299.30 265.41 299.58 265.19 300.05 264.82 300.51 264.44 300.97 264.07 301.33 263.78 M302.80 262.57 302.81 262.56 303.27 262.17 303.72 261.79 304.18 261.41 304.63 261.02 304.78 260.89 M306.22 259.65 306.44 259.47 306.89 259.08 307.33 258.68 307.78 258.29 308.18 257.94 M309.60 256.68 310.00 256.31 310.44 255.91 310.89 255.51 311.33 255.11 311.52 254.93 M312.92 253.64 313.08 253.49 313.52 253.08 313.95 252.68 314.39 252.27 314.82 251.87 M316.20 250.56 316.55 250.22 316.98 249.81 317.42 249.40 317.85 248.98 318.08 248.76 M319.44 247.44 319.56 247.32 319.99 246.91 320.42 246.49 320.84 246.08 321.27 245.66 321.30 245.62 M322.66 244.29 322.97 243.99 323.39 243.57 323.81 243.15 324.24 242.73 324.50 242.46 M325.85 241.12 325.93 241.04 326.35 240.62 326.77 240.20 327.19 239.78 327.61 239.35 327.68 239.28 M329.02 237.93 329.28 237.66 329.70 237.23 330.12 236.81 330.53 236.38 330.84 236.07" fill="none" stroke="#A2142F" stroke-width="1.4"/>
<path d="M331.78 235.11 331.78 235.11 332.20 234.67 332.62 234.24 332.97 233.89 M333.87 232.95 333.88 232.94 334.30 232.50 334.72 232.07 335.14 231.63 335.26 231.51 M336.16 230.57 336.39 230.32 336.81 229.89 337.23 229.45 337.54 229.12 M338.43 228.18 338.47 228.13 338.89 227.70 339.30 227.26 339.72 226.82 339.80 226.73 M340.69 225.78 340.96 225.50 341.37 225.06 341.78 224.61 342.06 224.32 M342.95 223.37 343.02 223.29 343.43 222.85 343.84 222.40 344.25 221.96 344.31 221.90 M345.19 220.94 345.48 220.63 345.88 220.19 346.29 219.74 346.54 219.47 M347.42 218.51 347.51 218.40 347.92 217.96 348.33 217.51 348.73 217.07 348.76 217.03 M349.64 216.07 349.95 215.72 350.35 215.28 350.76 214.83 350.98 214.58 M351.84 213.62 351.97 213.48 352.37 213.03 352.77 212.58 353.17 212.13 353.18 212.13 M354.04 211.16 354.38 210.78 354.78 210.33 355.18 209.88 355.37 209.66 M356.23 208.69 356.38 208.52 356.78 208.07 357.17 207.61 357.55 207.18 M358.41 206.21 358.77 205.80 359.16 205.34 359.56 204.89 359.72 204.70 M360.58 203.72 360.75 203.52 361.14 203.07 361.54 202.61 361.89 202.21 M362.73 201.22 363.11 200.78 363.51 200.32 363.90 199.87 364.04 199.70 M364.88 198.72 365.08 198.49 365.47 198.03 365.86 197.57 366.18 197.19 M367.02 196.20 367.03 196.19 367.42 195.73 367.81 195.27 368.20 194.81 368.31 194.68 M369.15 193.68 369.37 193.43 369.76 192.96 370.14 192.50 370.44 192.15 M371.27 191.15 371.31 191.11 371.69 190.65 372.08 190.19 372.47 189.72 372.55 189.62 M373.38 188.62 373.62 188.33 374.01 187.86 374.39 187.40 374.66 187.08 M375.49 186.07 375.55 186.00 375.93 185.54 376.31 185.07 376.70 184.60 376.76 184.53 M377.58 183.52 377.84 183.20 378.23 182.73 378.61 182.27 378.85 181.98 M379.67 180.97 379.75 180.86 380.13 180.39 380.51 179.92 380.89 179.46 380.93 179.41 M381.74 178.40 382.03 178.05 382.41 177.58 382.79 177.11 383.00 176.85 M383.81 175.83 383.92 175.69 384.30 175.22 384.68 174.75 385.05 174.28 385.06 174.27 M385.87 173.26 386.19 172.86 386.56 172.39 386.94 171.92 387.12 171.69 M387.93 170.67 388.06 170.50 388.44 170.03 388.81 169.55 389.17 169.10 M389.97 168.08 390.31 167.66 390.68 167.18 391.06 166.71 391.21 166.51 M392.01 165.49 392.17 165.28 392.55 164.81 392.92 164.33 393.24 163.91 M394.04 162.89 394.41 162.42 394.78 161.95 395.15 161.47 395.27 161.31 M396.07 160.28 396.26 160.04 396.63 159.56 397.00 159.08 397.29 158.70 M398.09 157.67 398.11 157.65 398.47 157.17 398.84 156.69 399.21 156.21 399.31 156.09 M400.10 155.06 400.31 154.77 400.68 154.29 401.05 153.82 401.32 153.47 M402.10 152.43 402.15 152.37 402.52 151.89 402.88 151.41 403.25 150.93 403.32 150.84 M404.10 149.81 404.35 149.49 404.71 149.01 405.08 148.53 405.31 148.22 M406.10 147.18 406.17 147.08 406.53 146.60 406.90 146.12 407.26 145.63 407.30 145.58 M408.08 144.54 408.35 144.19 408.72 143.70 409.08 143.22 409.29 142.95 M410.07 141.91 410.17 141.77 410.53 141.28 410.89 140.80 411.25 140.32 411.26 140.30 M412.04 139.26 412.34 138.86 412.70 138.38 413.06 137.89 413.24 137.66 M414.01 136.62 414.14 136.44 414.51 135.95 414.87 135.47 415.21 135.01 M415.98 133.97 416.31 133.53 416.66 133.04 417.02 132.55 417.17 132.36 M417.94 131.31 418.10 131.09 418.46 130.61 418.82 130.12 419.13 129.70 M419.90 128.66 420.25 128.17 420.61 127.69 420.97 127.20 421.08 127.04 M421.85 125.99 422.04 125.74 422.40 125.25 422.75 124.76 423.03 124.38 M423.80 123.33 423.82 123.30 424.18 122.81 424.54 122.32 424.89 121.83 424.98 121.72 M425.74 120.67 425.96 120.37 426.32 119.88 426.67 119.39 426.92 119.05 M427.68 118.00 427.74 117.92 428.09 117.43 428.45 116.94 428.80 116.45 428.86 116.38 M429.62 115.32 429.87 114.98 430.22 114.49 430.58 114.00 430.79 113.70 M431.56 112.65 431.64 112.53 431.99 112.04 432.35 111.55 432.70 111.06 432.73 111.03 M433.49 109.97 433.76 109.59 434.11 109.10 434.47 108.61 434.65 108.35 M435.41 107.30 435.53 107.14 435.88 106.65 436.23 106.16 436.58 105.67 M437.34 104.62 437.64 104.19 437.99 103.70 438.35 103.21 438.50 102.99 M439.26 101.93 439.40 101.74 439.75 101.25 440.11 100.75 440.43 100.31 M441.18 99.25 441.51 98.79 441.86 98.30 442.21 97.80 442.34 97.62 M443.10 96.56 443.27 96.33 443.62 95.84 443.97 95.34 444.26 94.94 M445.02 93.88 445.02 93.87 445.37 93.38 445.72 92.88 446.07 92.39 446.18 92.25 M446.93 91.19 447.13 90.92 447.48 90.42 447.83 89.93 448.09 89.56 M448.84 88.50 448.88 88.45 449.23 87.96 449.58 87.47 449.93 86.98 450.00 86.87 M450.76 85.81 450.98 85.50 451.33 85.01 451.68 84.52 451.91 84.18 M452.67 83.12 452.72 83.04 453.07 82.55 453.42 82.05 453.77 81.56 453.82 81.49 M454.58 80.43 454.82 80.08 455.17 79.59 455.52 79.10 455.73 78.80 M456.49 77.74 456.57 77.62 456.92 77.13 457.27 76.64 457.62 76.14 457.64 76.11 M458.39 75.05 458.66 74.67 459.01 74.17 459.36 73.68 459.55 73.41 M460.30 72.35 460.41 72.20 460.76 71.71 461.11 71.22 461.46 70.73 461.46 70.72 M462.21 69.66 462.50 69.25 462.85 68.76 463.20 68.27 463.37 68.03 M464.12 66.97 464.25 66.79 464.60 66.30 464.95 65.81 465.28 65.34 M466.03 64.28 466.34 63.84 466.69 63.35 467.04 62.85 467.19 62.65 M467.94 61.59 468.09 61.38 468.44 60.89 468.78 60.40 469.10 59.96 M469.85 58.90 470.18 58.43 470.53 57.94 470.88 57.45 471.01 57.27 M471.76 56.21 471.93 55.97 472.28 55.48 472.63 54.99 472.92 54.58 M473.67 53.52 474.02 53.03 474.37 52.54 474.72 52.05 474.84 51.89 M475.59 50.83 475.77 50.58 476.12 50.09 476.47 49.60 476.75 49.20" fill="none" stroke="#A2142F" stroke-width="1.35"/>
<path d="M268.27 292.65 268.27 292.65 268.78 292.45 269.29 292.24 269.80 292.04 270.30 291.82 270.80 291.60 271.30 291.38 271.79 291.15 272.09 291.00 M273.36 290.38 273.73 290.19 274.21 289.94 274.52 289.77 M276.07 288.91 276.09 288.89 276.56 288.62 277.02 288.35 277.47 288.07 277.93 287.79 278.38 287.50 278.83 287.21 279.28 286.91 279.73 286.62 279.81 286.56 M281.04 285.70 281.05 285.70 281.48 285.38 281.91 285.07 282.18 284.87 M283.68 283.74 284.06 283.45 284.48 283.12 284.91 282.79 285.33 282.45 285.75 282.12 286.18 281.79 286.60 281.45 287.02 281.11 287.34 280.86 M288.56 279.89 288.71 279.77 289.14 279.44 289.56 279.10 289.68 279.01 M291.18 277.83 291.26 277.76 291.69 277.43 292.12 277.10 292.54 276.76 292.97 276.43 293.40 276.09 293.82 275.76 294.25 275.43 294.67 275.09 294.84 274.96 M296.06 274.00 296.38 273.75 296.80 273.42 297.18 273.12 M298.68 271.92 298.93 271.73 299.35 271.39 299.77 271.05 300.19 270.71 300.61 270.37 301.03 270.03 301.46 269.69 301.87 269.34 302.29 269.00 302.33 268.97 M303.54 267.96 303.54 267.96 303.96 267.61 304.37 267.27 304.65 267.03 M306.14 265.76 306.43 265.51 306.84 265.16 307.25 264.81 307.66 264.45 308.06 264.10 308.47 263.74 308.88 263.38 309.28 263.03 309.69 262.67 309.74 262.62 M310.94 261.55 311.30 261.23 311.70 260.87 312.05 260.56 M313.52 259.22 313.70 259.05 314.10 258.68 314.49 258.32 314.89 257.95 315.28 257.58 315.68 257.21 316.07 256.84 316.47 256.47 316.86 256.10 317.09 255.89 M318.27 254.76 318.43 254.62 318.82 254.24 319.21 253.87 319.37 253.71 M320.82 252.30 321.14 251.99 321.53 251.61 321.92 251.23 322.30 250.85 322.68 250.47 323.07 250.09 323.45 249.71 323.83 249.33 324.22 248.95 324.36 248.81 M325.53 247.63 325.74 247.42 326.12 247.03 326.50 246.65 326.61 246.53 M328.05 245.06 328.38 244.72 328.76 244.33 329.14 243.94 329.51 243.55 329.89 243.16 330.26 242.77 330.63 242.38 331.01 241.99 331.38 241.60 331.55 241.41 M332.72 240.19 332.87 240.03 333.24 239.64 333.61 239.24 333.79 239.05 M335.22 237.52 335.45 237.27 335.82 236.87 336.19 236.47 336.55 236.08 336.92 235.68 337.28 235.28 337.65 234.88 338.02 234.48 338.38 234.08 338.69 233.75 M339.84 232.48 340.20 232.08 340.56 231.68 340.91 231.30 M342.32 229.72 342.37 229.67 342.73 229.27 343.09 228.86 343.45 228.46 343.81 228.06 344.17 227.65 344.53 227.25 344.89 226.84 345.25 226.44 345.61 226.03 345.77 225.85 M346.92 224.55 347.04 224.41 347.40 224.00 347.76 223.59 347.97 223.34 M349.38 221.73 349.54 221.56 349.89 221.15 350.25 220.74 350.60 220.33 350.96 219.92 351.31 219.51 351.67 219.10 352.02 218.69 352.37 218.28 352.73 217.87 352.81 217.78 M353.95 216.46 354.14 216.23 354.49 215.82 354.85 215.41 355.00 215.23 M356.40 213.60 356.61 213.35 356.96 212.94 357.31 212.53 357.66 212.12 358.01 211.71 358.37 211.30 358.72 210.88 359.07 210.47 359.42 210.06 359.77 209.65 359.81 209.59 M360.95 208.26 361.17 208.00 361.52 207.58 361.87 207.17 362.00 207.02 M363.40 205.37 363.62 205.11 363.97 204.69 364.32 204.28 364.67 203.87 365.02 203.46 365.37 203.04 365.72 202.63 366.07 202.22 366.42 201.80 366.77 201.39 366.80 201.35 M367.94 200.00 368.17 199.74 368.51 199.32 368.86 198.91 368.99 198.76 M370.38 197.11 370.61 196.84 370.95 196.43 371.30 196.01 371.65 195.60 372.00 195.19 372.35 194.77 372.69 194.36 373.04 193.94 373.39 193.53 373.73 193.11 373.78 193.06 M374.91 191.70 375.12 191.46 375.47 191.04 375.81 190.62 375.96 190.45 M377.35 188.78 377.54 188.55 377.89 188.13 378.23 187.72 378.58 187.30 378.92 186.88 379.27 186.47 379.61 186.05 379.96 185.63 380.30 185.22 380.64 184.80 380.74 184.68 M381.87 183.31 382.02 183.13 382.36 182.71 382.70 182.29 382.91 182.04 M384.29 180.35 384.41 180.20 384.75 179.78 385.09 179.36 385.43 178.94 385.77 178.53 386.11 178.11 386.46 177.69 386.79 177.27 387.13 176.85 387.47 176.42 387.66 176.19 M388.78 174.79 388.83 174.74 389.17 174.32 389.50 173.90 389.82 173.50 M391.20 171.77 391.52 171.36 391.86 170.94 392.19 170.51 392.53 170.09 392.86 169.67 393.20 169.24 393.53 168.82 393.86 168.39 394.20 167.97 394.53 167.54 394.54 167.53 M395.65 166.10 395.86 165.84 396.19 165.41 396.52 164.98 396.68 164.78 M398.04 163.01 398.17 162.84 398.50 162.42 398.83 161.99 399.16 161.56 399.49 161.13 399.81 160.70 400.14 160.27 400.47 159.84 400.80 159.41 401.12 158.98 401.36 158.66 M402.46 157.20 402.75 156.82 403.08 156.39 403.40 155.96 403.48 155.85 M404.83 154.04 405.02 153.79 405.34 153.36 405.67 152.92 405.99 152.49 406.31 152.06 406.63 151.62 406.95 151.19 407.28 150.75 407.60 150.32 407.92 149.88 408.13 149.60 M409.22 148.12 409.52 147.71 409.84 147.27 410.16 146.83 410.23 146.74 M411.57 144.90 411.76 144.65 412.08 144.21 412.40 143.78 412.72 143.34 413.03 142.90 413.35 142.46 413.67 142.03 413.99 141.59 414.31 141.15 414.62 140.71 414.85 140.41 M415.94 138.90 416.21 138.52 416.53 138.08 416.84 137.65 416.94 137.51 M418.28 135.65 418.42 135.45 418.74 135.01 419.06 134.57 419.37 134.13 419.69 133.69 420.00 133.25 420.32 132.82 420.64 132.38 420.95 131.94 421.27 131.50 421.54 131.12 M422.63 129.60 422.84 129.30 423.16 128.86 423.47 128.42 423.63 128.20 M424.97 126.34 425.05 126.22 425.37 125.78 425.68 125.34 426.00 124.90 426.31 124.46 426.63 124.02 426.94 123.58 427.26 123.14 427.57 122.70 427.89 122.26 428.20 121.82 428.22 121.79 M429.31 120.28 429.46 120.06 429.78 119.62 430.09 119.18 430.31 118.88 M431.65 117.01 431.66 116.98 431.98 116.54 432.29 116.10 432.61 115.66 432.92 115.22 433.24 114.78 433.55 114.34 433.86 113.90 434.18 113.46 434.49 113.02 434.81 112.58 434.90 112.45 M435.98 110.93 436.06 110.82 436.37 110.38 436.69 109.94 436.98 109.52 M438.32 107.65 438.57 107.29 438.88 106.85 439.19 106.41 439.50 105.97 439.82 105.53 440.13 105.08 440.44 104.64 440.75 104.20 441.06 103.76 441.38 103.32 441.56 103.06 M442.64 101.52 442.93 101.11 443.24 100.66 443.55 100.22 443.64 100.10 M444.96 98.21 445.10 98.01 445.41 97.56 445.72 97.12 446.03 96.68 446.34 96.23 446.65 95.79 446.96 95.35 447.27 94.90 447.58 94.46 447.88 94.01 448.19 93.57 M449.27 92.02 449.42 91.79 449.73 91.35 450.03 90.90 450.26 90.58 M451.57 88.66 451.87 88.23 452.17 87.78 452.48 87.33 452.78 86.89 453.09 86.44 453.39 85.99 453.70 85.55 454.00 85.10 454.30 84.65 454.61 84.20 454.78 83.95 M455.84 82.37 456.12 81.96 456.42 81.52 456.72 81.07 456.83 80.91 M458.13 78.95 458.22 78.82 458.52 78.37 458.82 77.92 459.12 77.47 459.42 77.02 459.72 76.57 460.02 76.12 460.31 75.67 460.61 75.22 460.91 74.76 461.20 74.31 461.31 74.15 M462.36 72.54 462.39 72.50 462.68 72.05 462.98 71.60 463.27 71.14 463.34 71.05 M464.63 69.05 464.74 68.87 465.03 68.42 465.32 67.96 465.61 67.51 465.91 67.05 466.20 66.60 466.49 66.14 466.78 65.68 467.07 65.23 467.36 64.77 467.65 64.31 467.76 64.13 M468.80 62.48 469.08 62.03 469.37 61.57 469.66 61.11 469.76 60.94 M471.03 58.89 471.08 58.81 471.37 58.35 471.65 57.89 471.93 57.43 472.22 56.97 472.50 56.51 472.78 56.04 473.06 55.58 473.34 55.12 473.62 54.66 473.90 54.19 474.12 53.83 M475.14 52.13 475.29 51.87 475.57 51.41 475.85 50.94 476.08 50.55" fill="none" stroke="#A2142F" stroke-width="1.40"/>
<path d="M268.27 292.65 268.27 292.65 268.78 292.45 269.29 292.24 269.45 292.18 M270.72 291.63 270.80 291.60 271.30 291.38 271.79 291.15 271.89 291.10 M273.45 290.33 273.73 290.19 274.21 289.94 274.68 289.68 275.16 289.42 275.63 289.17 276.09 288.89 276.56 288.62 277.02 288.35 277.22 288.22 M278.47 287.44 278.83 287.21 279.28 286.91 279.62 286.69 M281.14 285.63 281.48 285.38 281.91 285.07 282.35 284.75 282.78 284.43 283.20 284.10 283.63 283.78 284.06 283.45 284.48 283.12 284.81 282.86 M286.03 281.90 286.18 281.79 286.60 281.45 287.02 281.11 287.15 281.01 M288.65 279.82 288.71 279.77 289.14 279.44 289.56 279.10 289.99 278.77 290.41 278.43 290.84 278.10 291.26 277.76 291.69 277.43 292.12 277.10 292.31 276.94 M293.53 275.99 293.82 275.76 294.25 275.43 294.65 275.11 M296.15 273.93 296.38 273.75 296.80 273.42 297.23 273.08 297.66 272.74 298.08 272.41 298.50 272.07 298.93 271.73 299.35 271.39 299.77 271.05 299.81 271.02 M301.02 270.04 301.03 270.03 301.46 269.69 301.87 269.34 302.14 269.12 M303.63 267.89 303.96 267.61 304.37 267.27 304.78 266.92 305.20 266.57 305.61 266.22 306.02 265.86 306.43 265.51 306.84 265.16 307.25 264.81 M308.45 263.76 308.47 263.74 308.88 263.38 309.28 263.03 309.56 262.78 M311.03 261.47 311.30 261.23 311.70 260.87 312.10 260.51 312.50 260.14 312.90 259.78 313.30 259.41 313.70 259.05 314.10 258.68 314.49 258.32 314.62 258.20 M315.81 257.09 316.07 256.84 316.47 256.47 316.86 256.10 316.90 256.06 M318.36 254.68 318.43 254.62 318.82 254.24 319.21 253.87 319.59 253.49 319.98 253.12 320.37 252.74 320.76 252.37 321.14 251.99 321.53 251.61 321.91 251.24 M323.09 250.07 323.45 249.71 323.83 249.33 324.17 248.99 M325.62 247.54 325.74 247.42 326.12 247.03 326.50 246.65 326.88 246.26 327.25 245.88 327.63 245.49 328.01 245.10 328.38 244.72 328.76 244.33 329.13 243.94 M330.30 242.73 330.63 242.38 331.01 241.99 331.38 241.60 M332.81 240.09 332.87 240.03 333.24 239.64 333.61 239.24 333.98 238.85 334.35 238.45 334.71 238.06 335.08 237.66 335.45 237.27 335.82 236.87 336.19 236.47 336.29 236.36 M337.45 235.11 337.65 234.88 338.02 234.48 338.38 234.08 338.51 233.94 M339.93 232.38 340.20 232.08 340.56 231.68 340.93 231.28 341.29 230.88 341.65 230.48 342.01 230.07 342.37 229.67 342.73 229.27 343.09 228.86 343.39 228.54 M344.53 227.25 344.89 226.84 345.25 226.44 345.59 226.05 M347.00 224.45 347.04 224.41 347.40 224.00 347.76 223.59 348.11 223.19 348.47 222.78 348.82 222.37 349.18 221.96 349.54 221.56 349.89 221.15 350.25 220.74 350.44 220.52 M351.58 219.20 351.67 219.10 352.02 218.69 352.37 218.28 352.63 217.98 M354.03 216.36 354.14 216.23 354.49 215.82 354.85 215.41 355.20 215.00 355.55 214.59 355.90 214.18 356.26 213.77 356.61 213.35 356.96 212.94 357.31 212.53 357.45 212.37 M358.59 211.03 358.72 210.88 359.07 210.47 359.42 210.06 359.64 209.80 M361.04 208.15 361.17 208.00 361.52 207.58 361.87 207.17 362.22 206.76 362.57 206.35 362.92 205.93 363.27 205.52 363.62 205.11 363.97 204.69 364.32 204.28 364.45 204.14 M365.58 202.79 365.72 202.63 366.07 202.22 366.42 201.80 366.63 201.56 M368.03 199.90 368.17 199.74 368.51 199.32 368.86 198.91 369.21 198.50 369.56 198.08 369.91 197.67 370.26 197.26 370.61 196.84 370.95 196.43 371.30 196.01 371.43 195.86 M372.56 194.51 372.69 194.36 373.04 193.94 373.39 193.53 373.61 193.26 M375.00 191.60 375.12 191.46 375.47 191.04 375.81 190.62 376.16 190.21 376.51 189.79 376.85 189.38 377.20 188.96 377.54 188.55 377.89 188.13 378.23 187.72 378.39 187.52 M379.52 186.16 379.61 186.05 379.96 185.63 380.30 185.22 380.57 184.89 M381.95 183.21 382.02 183.13 382.36 182.71 382.70 182.29 383.04 181.88 383.39 181.46 383.73 181.04 384.07 180.62 384.41 180.20 384.75 179.78 385.09 179.36 385.33 179.07 M386.45 177.69 386.46 177.69 386.79 177.27 387.13 176.85 387.47 176.42 387.49 176.40 M388.87 174.69 389.17 174.32 389.50 173.90 389.84 173.47 390.18 173.05 390.51 172.63 390.85 172.21 391.19 171.78 391.52 171.36 391.86 170.94 392.19 170.51 392.23 170.47 M393.34 169.06 393.53 168.82 393.86 168.39 394.20 167.97 394.37 167.75 M395.74 165.99 395.86 165.84 396.19 165.41 396.52 164.98 396.85 164.56 397.18 164.13 397.51 163.70 397.84 163.27 398.17 162.84 398.50 162.42 398.83 161.99 399.07 161.68 M400.17 160.23 400.47 159.84 400.80 159.41 401.12 158.98 401.19 158.88 M402.55 157.09 402.75 156.82 403.08 156.39 403.40 155.96 403.72 155.52 404.05 155.09 404.37 154.66 404.70 154.22 405.02 153.79 405.34 153.36 405.67 152.92 405.85 152.68 M406.94 151.20 406.95 151.19 407.28 150.75 407.60 150.32 407.92 149.88 407.96 149.83 M409.30 148.00 409.52 147.71 409.84 147.27 410.16 146.83 410.48 146.40 410.80 145.96 411.12 145.52 411.44 145.09 411.76 144.65 412.08 144.21 412.40 143.78 412.58 143.52 M413.67 142.02 413.99 141.59 414.31 141.15 414.62 140.71 414.68 140.64 M416.02 138.78 416.21 138.52 416.53 138.08 416.84 137.65 417.16 137.21 417.48 136.77 417.79 136.33 418.11 135.89 418.42 135.45 418.74 135.01 419.06 134.57 419.28 134.26 M420.37 132.75 420.64 132.38 420.95 131.94 421.27 131.50 421.37 131.35 M422.71 129.49 422.84 129.30 423.16 128.86 423.47 128.42 423.79 127.98 424.10 127.54 424.42 127.10 424.74 126.66 425.05 126.22 425.37 125.78 425.68 125.34 425.97 124.94 M427.05 123.43 427.26 123.14 427.57 122.70 427.89 122.26 428.06 122.03 M429.39 120.16 429.46 120.06 429.78 119.62 430.09 119.18 430.41 118.74 430.72 118.30 431.03 117.86 431.35 117.42 431.66 116.98 431.98 116.54 432.29 116.10 432.61 115.66 432.65 115.61 M433.73 114.09 433.86 113.90 434.18 113.46 434.49 113.02 434.73 112.68 M436.07 110.81 436.37 110.38 436.69 109.94 437.00 109.50 437.31 109.06 437.63 108.61 437.94 108.17 438.25 107.73 438.57 107.29 438.88 106.85 439.19 106.41 439.31 106.24 M440.40 104.71 440.44 104.64 440.75 104.20 441.06 103.76 441.38 103.32 441.39 103.29 M442.72 101.40 442.93 101.11 443.24 100.66 443.55 100.22 443.86 99.78 444.17 99.34 444.48 98.89 444.79 98.45 445.10 98.01 445.41 97.56 445.72 97.12 445.96 96.78 M447.03 95.24 447.27 94.90 447.58 94.46 447.88 94.01 448.03 93.81 M449.35 91.90 449.42 91.79 449.73 91.35 450.03 90.90 450.34 90.46 450.65 90.01 450.95 89.56 451.26 89.12 451.56 88.67 451.87 88.23 452.17 87.78 452.48 87.33 452.56 87.21 M453.63 85.64 453.70 85.55 454.00 85.10 454.30 84.65 454.61 84.20 454.62 84.19 M455.93 82.25 456.12 81.96 456.42 81.52 456.72 81.07 457.02 80.62 457.32 80.17 457.62 79.72 457.92 79.27 458.22 78.82 458.52 78.37 458.82 77.92 459.11 77.48 M460.17 75.88 460.31 75.67 460.61 75.22 460.91 74.76 461.15 74.40 M462.44 72.41 462.68 72.05 462.98 71.60 463.27 71.14 463.57 70.69 463.86 70.24 464.15 69.78 464.45 69.33 464.74 68.87 465.03 68.42 465.32 67.96 465.59 67.54 M466.64 65.90 466.78 65.68 467.07 65.23 467.36 64.77 467.60 64.38 M468.88 62.35 469.08 62.03 469.37 61.57 469.66 61.11 469.94 60.65 470.23 60.19 470.51 59.73 470.80 59.27 471.08 58.81 471.37 58.35 471.65 57.89 471.93 57.43 471.99 57.34 M473.02 55.66 473.06 55.58 473.34 55.12 473.62 54.66 473.90 54.19 473.96 54.09 M475.22 52.00 475.29 51.87 475.57 51.41 475.85 50.94 476.12 50.48 476.40 50.01 476.68 49.55 476.95 49.08 477.23 48.61 477.23 48.61" fill="none" stroke="#A2142F" stroke-width="1.40"/>
<path d="M268.27 292.65 268.27 292.65 268.78 292.45 269.25 292.26 M270.82 291.59 271.30 291.38 271.79 291.15 272.28 290.91 272.77 290.68 273.25 290.44 273.73 290.19 274.21 289.94 274.62 289.72 M275.88 289.02 276.09 288.89 276.56 288.62 277.02 288.35 277.03 288.34 M278.57 287.38 278.83 287.21 279.28 286.91 279.73 286.62 280.17 286.31 280.61 286.00 281.05 285.70 281.48 285.38 281.91 285.07 282.27 284.80 M283.50 283.88 283.63 283.78 284.06 283.45 284.48 283.12 284.62 283.01 M286.12 281.83 286.18 281.79 286.60 281.45 287.02 281.11 287.44 280.78 287.87 280.44 288.29 280.11 288.71 279.77 289.14 279.44 289.56 279.10 289.78 278.93 M291.00 277.97 291.26 277.76 291.69 277.43 292.12 277.10 292.12 277.09 M293.62 275.92 293.82 275.76 294.25 275.43 294.67 275.09 295.10 274.76 295.53 274.42 295.95 274.09 296.38 273.75 296.80 273.42 297.23 273.08 297.28 273.04 M298.50 272.07 298.50 272.07 298.93 271.73 299.35 271.39 299.62 271.17 M301.11 269.96 301.46 269.69 301.87 269.34 302.29 269.00 302.71 268.65 303.13 268.31 303.54 267.96 303.96 267.61 304.37 267.27 304.74 266.95 M305.95 265.92 306.02 265.86 306.43 265.51 306.84 265.16 307.06 264.97 M308.54 263.68 308.88 263.38 309.28 263.03 309.69 262.67 310.09 262.31 310.50 261.95 310.90 261.59 311.30 261.23 311.70 260.87 312.10 260.51 312.14 260.47 M313.33 259.39 313.70 259.05 314.10 258.68 314.43 258.37 M315.90 257.01 316.07 256.84 316.47 256.47 316.86 256.10 317.25 255.73 317.64 255.36 318.04 254.99 318.43 254.62 318.82 254.24 319.21 253.87 319.46 253.63 M320.64 252.48 320.76 252.37 321.14 251.99 321.53 251.61 321.73 251.42 M323.18 249.98 323.45 249.71 323.83 249.33 324.22 248.95 324.60 248.57 324.98 248.19 325.36 247.80 325.74 247.42 326.12 247.03 326.50 246.65 326.70 246.44 M327.87 245.24 328.01 245.10 328.38 244.72 328.76 244.33 328.95 244.13 M330.39 242.64 330.63 242.38 331.01 241.99 331.38 241.60 331.75 241.21 332.12 240.82 332.49 240.42 332.87 240.03 333.24 239.64 333.61 239.24 333.88 238.95 M335.04 237.71 335.08 237.66 335.45 237.27 335.82 236.87 336.11 236.55 M337.53 235.01 337.65 234.88 338.02 234.48 338.38 234.08 338.75 233.68 339.11 233.29 339.47 232.88 339.84 232.48 340.20 232.08 340.56 231.68 340.93 231.28 341.00 231.20 M342.15 229.92 342.37 229.67 342.73 229.27 343.09 228.86 343.21 228.74 M344.62 227.15 344.89 226.84 345.25 226.44 345.61 226.03 345.97 225.63 346.33 225.22 346.68 224.81 347.04 224.41 347.40 224.00 347.76 223.59 348.06 223.24 M349.21 221.93 349.54 221.56 349.89 221.15 350.25 220.74 350.26 220.72 M351.67 219.10 352.02 218.69 352.37 218.28 352.73 217.87 353.08 217.46 353.43 217.05 353.79 216.64 354.14 216.23 354.49 215.82 354.85 215.41 355.09 215.13 M356.23 213.80 356.26 213.77 356.61 213.35 356.96 212.94 357.28 212.57 M358.68 210.93 358.72 210.88 359.07 210.47 359.42 210.06 359.77 209.65 360.12 209.23 360.47 208.82 360.82 208.41 361.17 208.00 361.52 207.58 361.87 207.17 362.09 206.92 M363.22 205.58 363.27 205.52 363.62 205.11 363.97 204.69 364.27 204.34 M365.67 202.69 365.72 202.63 366.07 202.22 366.42 201.80 366.77 201.39 367.12 200.98 367.47 200.56 367.82 200.15 368.17 199.74 368.51 199.32 368.86 198.91 369.07 198.66 M370.21 197.31 370.26 197.26 370.61 196.84 370.95 196.43 371.25 196.07 M372.65 194.41 372.69 194.36 373.04 193.94 373.39 193.53 373.73 193.11 374.08 192.70 374.43 192.28 374.78 191.87 375.12 191.46 375.47 191.04 375.81 190.62 376.05 190.35 M377.18 188.99 377.20 188.96 377.54 188.55 377.89 188.13 378.22 187.73 M379.61 186.05 379.61 186.05 379.96 185.63 380.30 185.22 380.64 184.80 380.99 184.38 381.33 183.97 381.67 183.55 382.02 183.13 382.36 182.71 382.70 182.29 382.99 181.94 M384.12 180.56 384.41 180.20 384.75 179.78 385.09 179.36 385.16 179.28 M386.54 177.58 386.79 177.27 387.13 176.85 387.47 176.42 387.81 176.00 388.15 175.58 388.49 175.16 388.83 174.74 389.17 174.32 389.50 173.90 389.84 173.47 389.90 173.39 M391.02 171.99 391.19 171.78 391.52 171.36 391.86 170.94 392.05 170.69 M393.43 168.95 393.53 168.82 393.86 168.39 394.20 167.97 394.53 167.54 394.86 167.12 395.20 166.69 395.53 166.26 395.86 165.84 396.19 165.41 396.52 164.98 396.76 164.67 M397.87 163.23 398.17 162.84 398.50 162.42 398.83 161.99 398.90 161.90 M400.26 160.12 400.47 159.84 400.80 159.41 401.12 158.98 401.45 158.55 401.77 158.11 402.10 157.68 402.43 157.25 402.75 156.82 403.08 156.39 403.40 155.96 403.57 155.74 M404.66 154.27 404.70 154.22 405.02 153.79 405.34 153.36 405.67 152.92 405.68 152.91 M407.03 151.09 407.28 150.75 407.60 150.32 407.92 149.88 408.24 149.45 408.56 149.01 408.88 148.58 409.20 148.14 409.52 147.71 409.84 147.27 410.16 146.83 410.31 146.63 M411.41 145.13 411.44 145.09 411.76 144.65 412.08 144.21 412.40 143.78 412.41 143.75 M413.76 141.91 413.99 141.59 414.31 141.15 414.62 140.71 414.94 140.28 415.26 139.84 415.57 139.40 415.89 138.96 416.21 138.52 416.53 138.08 416.84 137.65 417.02 137.39 M418.11 135.89 418.42 135.45 418.74 135.01 419.06 134.57 419.12 134.49 M420.45 132.63 420.64 132.38 420.95 131.94 421.27 131.50 421.58 131.06 421.90 130.62 422.21 130.18 422.53 129.74 422.84 129.30 423.16 128.86 423.47 128.42 423.71 128.09 M424.80 126.57 425.05 126.22 425.37 125.78 425.68 125.34 425.80 125.17 M427.14 123.31 427.26 123.14 427.57 122.70 427.89 122.26 428.20 121.82 428.52 121.38 428.83 120.94 429.15 120.50 429.46 120.06 429.78 119.62 430.09 119.18 430.39 118.76 M431.48 117.24 431.66 116.98 431.98 116.54 432.29 116.10 432.48 115.84 M433.82 113.97 433.86 113.90 434.18 113.46 434.49 113.02 434.81 112.58 435.12 112.14 435.43 111.70 435.75 111.26 436.06 110.82 436.37 110.38 436.69 109.94 437.00 109.50 437.07 109.41 M438.15 107.88 438.25 107.73 438.57 107.29 438.88 106.85 439.15 106.47 M440.48 104.59 440.75 104.20 441.06 103.76 441.38 103.32 441.69 102.88 442.00 102.43 442.31 101.99 442.62 101.55 442.93 101.11 443.24 100.66 443.55 100.22 443.72 99.99 M444.80 98.45 445.10 98.01 445.41 97.56 445.72 97.12 445.79 97.02 M447.12 95.12 447.27 94.90 447.58 94.46 447.88 94.01 448.19 93.57 448.50 93.12 448.81 92.68 449.11 92.24 449.42 91.79 449.73 91.35 450.03 90.90 450.34 90.46 M451.41 88.90 451.56 88.67 451.87 88.23 452.17 87.78 452.40 87.45 M453.71 85.52 454.00 85.10 454.30 84.65 454.61 84.20 454.91 83.76 455.21 83.31 455.51 82.86 455.82 82.41 456.12 81.96 456.42 81.52 456.72 81.07 456.91 80.79 M457.97 79.20 458.22 78.82 458.52 78.37 458.82 77.92 458.95 77.73 M460.25 75.76 460.31 75.67 460.61 75.22 460.91 74.76 461.20 74.31 461.50 73.86 461.80 73.41 462.09 72.96 462.39 72.50 462.68 72.05 462.98 71.60 463.27 71.14 463.42 70.92 M464.47 69.30 464.74 68.87 465.03 68.42 465.32 67.96 465.43 67.79 M466.72 65.77 466.78 65.68 467.07 65.23 467.36 64.77 467.65 64.31 467.93 63.86 468.22 63.40 468.51 62.94 468.80 62.48 469.08 62.03 469.37 61.57 469.66 61.11 469.84 60.81 M470.88 59.15 471.08 58.81 471.37 58.35 471.65 57.89 471.83 57.60 M473.09 55.53 473.34 55.12 473.62 54.66 473.90 54.19 474.18 53.73 474.46 53.27 474.74 52.80 475.02 52.34 475.29 51.87 475.57 51.41 475.85 50.94 476.12 50.48 476.16 50.42 M477.18 48.70 477.23 48.61 477.23 48.61" fill="none" stroke="#A2142F" stroke-width="1.40"/>
<path d="M268.36 292.83 268.36 292.83 268.86 292.60 269.36 292.37 269.86 292.14 270.36 291.90 270.85 291.67 271.20 291.51 M272.46 290.90 272.83 290.72 273.32 290.48 273.63 290.33 M275.19 289.56 275.29 289.51 275.78 289.27 276.27 289.02 276.75 288.77 277.24 288.53 277.73 288.27 278.22 288.02 278.70 287.77 278.98 287.62 M280.25 286.96 280.64 286.75 281.12 286.49 281.41 286.34 M282.96 285.50 283.04 285.45 283.52 285.19 284.00 284.92 284.48 284.66 284.96 284.39 285.44 284.12 285.91 283.86 286.39 283.59 286.73 283.39 M287.99 282.67 288.28 282.50 288.76 282.23 289.14 282.00 M290.68 281.09 291.11 280.84 291.58 280.56 292.05 280.28 292.52 280.00 292.99 279.71 293.45 279.43 293.92 279.14 294.39 278.86 294.44 278.83 M295.68 278.06 295.78 278.00 296.24 277.71 296.71 277.42 296.83 277.34 M298.37 276.37 298.56 276.25 299.02 275.95 299.48 275.66 299.94 275.36 300.39 275.06 300.85 274.76 301.31 274.47 301.77 274.17 302.10 273.95 M303.34 273.13 303.59 272.96 304.05 272.66 304.48 272.37 M306.01 271.34 306.31 271.13 306.76 270.82 307.22 270.51 307.67 270.20 308.12 269.89 308.57 269.58 309.02 269.27 309.47 268.96 309.72 268.78 M310.95 267.92 311.26 267.70 311.70 267.38 312.09 267.11 M313.61 266.03 313.93 265.79 314.37 265.47 314.81 265.15 315.26 264.83 315.70 264.51 316.14 264.19 316.58 263.86 317.02 263.54 317.29 263.34 M318.52 262.43 318.78 262.23 319.22 261.91 319.65 261.58 M321.16 260.44 321.40 260.26 321.84 259.93 322.27 259.59 322.71 259.26 323.14 258.93 323.57 258.59 324.01 258.26 324.44 257.92 324.82 257.62 M326.04 256.67 326.16 256.57 326.59 256.23 327.02 255.89 327.17 255.78 M328.67 254.58 328.74 254.53 329.16 254.18 329.59 253.84 330.02 253.50 330.44 253.15 330.87 252.81 331.29 252.46 331.72 252.11 332.14 251.77 332.31 251.63 M333.52 250.63 333.83 250.37 334.25 250.02 334.64 249.70 M336.13 248.45 336.35 248.26 336.77 247.91 337.19 247.55 337.60 247.20 338.02 246.84 338.44 246.49 338.85 246.13 339.27 245.77 339.68 245.41 339.74 245.36 M340.95 244.32 341.34 243.97 341.75 243.61 342.05 243.35 M343.53 242.04 343.80 241.80 344.21 241.43 344.62 241.07 345.03 240.70 345.44 240.34 345.85 239.97 346.25 239.60 346.66 239.23 347.07 238.87 347.12 238.82 M348.32 237.73 348.69 237.39 349.09 237.01 349.42 236.71 M350.88 235.35 351.10 235.15 351.50 234.78 351.90 234.40 352.30 234.02 352.70 233.65 353.10 233.27 353.50 232.89 353.90 232.52 354.29 232.14 354.45 231.99 M355.63 230.86 355.88 230.62 356.27 230.24 356.67 229.86 356.72 229.80 M358.18 228.39 358.24 228.33 358.63 227.94 359.02 227.56 359.41 227.17 359.80 226.79 360.19 226.40 360.58 226.01 360.97 225.63 361.36 225.24 361.71 224.89 M362.89 223.71 362.91 223.69 363.29 223.30 363.68 222.91 363.97 222.61 M365.41 221.14 365.60 220.95 365.98 220.55 366.36 220.16 366.75 219.76 367.13 219.37 367.51 218.97 367.89 218.58 368.27 218.18 368.65 217.79 368.91 217.50 M370.08 216.28 370.16 216.19 370.53 215.80 370.91 215.40 371.15 215.14 M372.58 213.61 372.78 213.39 373.15 212.99 373.53 212.59 373.90 212.19 374.27 211.78 374.64 211.38 375.01 210.97 375.38 210.57 375.75 210.16 376.05 209.84 M377.20 208.57 377.23 208.54 377.59 208.13 377.96 207.73 378.26 207.39 M379.68 205.80 379.78 205.68 380.15 205.27 380.51 204.86 380.87 204.45 381.24 204.04 381.60 203.63 381.96 203.21 382.32 202.80 382.68 202.39 383.04 201.98 383.12 201.89 M384.26 200.57 384.47 200.32 384.83 199.90 385.19 199.49 385.31 199.35 M386.71 197.70 386.96 197.40 387.32 196.99 387.67 196.57 388.02 196.15 388.37 195.73 388.73 195.31 389.08 194.89 389.43 194.47 389.78 194.05 390.11 193.65 M391.24 192.29 391.52 191.94 391.87 191.52 392.22 191.09 392.28 191.02 M393.66 189.32 393.94 188.97 394.29 188.54 394.63 188.12 394.97 187.69 395.32 187.27 395.66 186.84 396.00 186.41 396.34 185.98 396.68 185.55 397.02 185.13 397.02 185.13 M398.14 183.71 398.38 183.41 398.72 182.98 399.05 182.55 399.17 182.40 M400.54 180.64 400.73 180.39 401.07 179.95 401.40 179.52 401.73 179.09 402.07 178.65 402.40 178.22 402.73 177.78 403.06 177.35 403.40 176.91 403.73 176.48 403.86 176.31 M404.96 174.84 405.04 174.73 405.37 174.29 405.70 173.86 405.97 173.49 M407.33 171.67 407.33 171.66 407.66 171.22 407.98 170.78 408.31 170.34 408.63 169.90 408.95 169.46 409.28 169.02 409.60 168.57 409.92 168.13 410.24 167.69 410.56 167.25 410.60 167.19 M411.69 165.68 411.84 165.47 412.16 165.03 412.48 164.58 412.69 164.28 M414.02 162.40 414.06 162.35 414.38 161.90 414.69 161.46 415.01 161.01 415.32 160.56 415.63 160.11 415.95 159.66 416.26 159.22 416.57 158.77 416.88 158.32 417.19 157.87 417.26 157.78 M418.33 156.22 418.43 156.06 418.74 155.61 419.05 155.16 419.32 154.77 M420.63 152.83 420.89 152.44 421.20 151.99 421.50 151.54 421.81 151.08 422.11 150.63 422.42 150.17 422.72 149.72 423.02 149.26 423.32 148.80 423.62 148.35 423.81 148.06 M424.87 146.45 425.13 146.06 425.43 145.60 425.72 145.14 425.84 144.96 M427.14 142.97 427.21 142.85 427.51 142.39 427.80 141.93 428.10 141.47 428.39 141.01 428.69 140.54 428.98 140.08 429.27 139.62 429.57 139.16 429.86 138.70 430.15 138.23 430.27 138.05 M431.31 136.39 431.32 136.38 431.61 135.91 431.90 135.45 432.19 134.98 432.27 134.85 M433.54 132.80 433.62 132.66 433.91 132.19 434.20 131.72 434.48 131.26 434.77 130.79 435.05 130.32 435.34 129.85 435.62 129.39 435.90 128.92 436.19 128.45 436.47 127.98 436.62 127.73 M437.64 126.02 437.88 125.63 438.16 125.16 438.44 124.69 438.58 124.44 M439.83 122.33 440.10 121.86 440.38 121.39 440.66 120.92 440.93 120.44 441.21 119.97 441.48 119.50 441.76 119.02 442.03 118.55 442.31 118.07 442.58 117.60 442.85 117.12 442.86 117.11 M443.86 115.36 443.94 115.22 444.21 114.75 444.48 114.27 444.75 113.79 444.78 113.73 M446.01 111.55 446.09 111.41 446.36 110.93 446.63 110.45 446.89 109.97 447.16 109.49 447.43 109.01 447.69 108.53 447.96 108.06 448.22 107.58 448.49 107.10 448.75 106.62 448.98 106.20 M449.96 104.39 450.06 104.21 450.32 103.73 450.58 103.25 450.85 102.77 450.87 102.72 M452.07 100.49 452.14 100.35 452.40 99.87 452.66 99.39 452.91 98.90 453.17 98.42 453.43 97.93 453.68 97.45 453.94 96.97 454.20 96.48 454.45 96.00 454.70 95.51 454.96 95.03 454.98 94.98 M455.95 93.13 455.97 93.08 456.22 92.59 456.47 92.11 456.73 91.62 456.83 91.42 M458.01 89.12 458.23 88.70 458.47 88.21 458.72 87.72 458.97 87.23 459.22 86.74 459.46 86.25 459.71 85.76 459.96 85.27 460.20 84.78 460.45 84.29 460.69 83.80 460.86 83.47 M461.80 81.58 461.91 81.35 462.15 80.86 462.40 80.37 462.64 79.88 462.67 79.82 M463.82 77.46 463.84 77.41 464.08 76.92 464.32 76.43 464.56 75.94 464.80 75.44 465.04 74.95 465.27 74.45 465.51 73.96 465.75 73.47 465.99 72.97 466.22 72.48 466.46 71.98 466.60 71.67 M467.53 69.73 467.63 69.51 467.86 69.01 468.10 68.52 468.33 68.02 468.37 67.93 M469.50 65.52 469.72 65.04 469.95 64.54 470.18 64.05 470.41 63.55 470.64 63.05 470.86 62.55 471.09 62.06 471.32 61.56 471.55 61.06 471.78 60.56 472.00 60.06 472.22 59.59 M473.12 57.60 473.13 57.57 473.35 57.07 473.58 56.57 473.80 56.07 473.94 55.76 M475.04 53.29 475.14 53.07 475.36 52.57 475.58 52.07 475.80 51.56 476.02 51.06 476.24 50.56 476.46 50.06 476.68 49.56 476.90 49.06 477.12 48.55 477.12 48.55" fill="none" stroke="#A2142F" stroke-width="1.45"/>
<path d="M268.36 292.83 268.36 292.83 268.56 292.74 M269.83 292.15 269.86 292.14 270.36 291.90 270.85 291.67 271.00 291.60 M272.56 290.85 272.83 290.72 273.32 290.48 273.82 290.24 274.31 290.00 274.80 289.76 275.29 289.51 275.78 289.27 276.27 289.02 276.36 288.97 M277.62 288.33 277.73 288.27 278.22 288.02 278.70 287.77 278.79 287.73 M280.34 286.91 280.64 286.75 281.12 286.49 281.60 286.23 282.08 285.97 282.56 285.71 283.04 285.45 283.52 285.19 284.00 284.92 284.12 284.86 M285.38 284.16 285.44 284.12 285.91 283.86 286.39 283.59 286.54 283.50 M288.08 282.62 288.28 282.50 288.76 282.23 289.23 281.95 289.70 281.67 290.17 281.40 290.64 281.12 291.11 280.84 291.58 280.56 291.84 280.40 M293.09 279.65 293.45 279.43 293.92 279.14 294.24 278.95 M295.78 278.00 295.78 278.00 296.24 277.71 296.71 277.42 297.17 277.13 297.63 276.83 298.09 276.54 298.56 276.25 299.02 275.95 299.48 275.66 299.52 275.63 M300.76 274.83 300.85 274.76 301.31 274.47 301.77 274.17 301.91 274.08 M303.43 273.07 303.59 272.96 304.05 272.66 304.50 272.35 304.95 272.05 305.41 271.74 305.86 271.44 306.31 271.13 306.76 270.82 307.15 270.56 M308.39 269.71 308.57 269.58 309.02 269.27 309.47 268.96 309.53 268.91 M311.05 267.85 311.26 267.70 311.70 267.38 312.15 267.07 312.59 266.75 313.04 266.43 313.48 266.11 313.93 265.79 314.37 265.47 314.74 265.21 M315.97 264.31 316.14 264.19 316.58 263.86 317.02 263.54 317.10 263.48 M318.61 262.36 318.78 262.23 319.22 261.91 319.66 261.58 320.09 261.25 320.53 260.92 320.97 260.59 321.40 260.26 321.84 259.93 322.27 259.59 322.29 259.58 M323.51 258.64 323.57 258.59 324.01 258.26 324.44 257.92 324.64 257.77 M326.14 256.59 326.16 256.57 326.59 256.23 327.02 255.89 327.45 255.55 327.88 255.21 328.31 254.87 328.74 254.53 329.16 254.18 329.59 253.84 329.79 253.68 M331.00 252.70 331.29 252.46 331.72 252.11 332.12 251.78 M333.61 250.55 333.83 250.37 334.25 250.02 334.67 249.67 335.09 249.32 335.51 248.97 335.93 248.61 336.35 248.26 336.77 247.91 337.19 247.55 337.24 247.51 M338.45 246.48 338.85 246.13 339.27 245.77 339.56 245.52 M341.04 244.24 341.34 243.97 341.75 243.61 342.16 243.25 342.57 242.89 342.98 242.53 343.40 242.16 343.80 241.80 344.21 241.43 344.62 241.07 344.64 241.06 M345.84 239.98 345.85 239.97 346.25 239.60 346.66 239.23 346.94 238.98 M348.41 237.64 348.69 237.39 349.09 237.01 349.49 236.64 349.90 236.27 350.30 235.90 350.70 235.52 351.10 235.15 351.50 234.78 351.90 234.40 351.98 234.33 M353.17 233.21 353.50 232.89 353.90 232.52 354.26 232.17 M355.72 230.77 355.88 230.62 356.27 230.24 356.67 229.86 357.06 229.48 357.45 229.09 357.85 228.71 358.24 228.33 358.63 227.94 359.02 227.56 359.27 227.32 M360.44 226.15 360.58 226.01 360.97 225.63 361.36 225.24 361.53 225.07 M362.98 223.62 363.29 223.30 363.68 222.91 364.06 222.51 364.45 222.12 364.83 221.73 365.22 221.34 365.60 220.95 365.98 220.55 366.36 220.16 366.49 220.03 M367.66 218.82 367.89 218.58 368.27 218.18 368.65 217.79 368.73 217.69 M370.17 216.18 370.53 215.80 370.91 215.40 371.28 215.00 371.66 214.60 372.03 214.20 372.41 213.79 372.78 213.39 373.15 212.99 373.53 212.59 373.65 212.46 M374.80 211.20 375.01 210.97 375.38 210.57 375.75 210.16 375.87 210.03 M377.29 208.47 377.59 208.13 377.96 207.73 378.33 207.32 378.69 206.91 379.06 206.50 379.42 206.09 379.78 205.68 380.15 205.27 380.51 204.86 380.74 204.60 M381.88 203.30 381.96 203.21 382.32 202.80 382.68 202.39 382.94 202.09 M384.34 200.47 384.47 200.32 384.83 199.90 385.19 199.49 385.54 199.07 385.90 198.66 386.25 198.24 386.61 197.82 386.96 197.40 387.32 196.99 387.67 196.57 387.76 196.46 M388.89 195.11 389.08 194.89 389.43 194.47 389.78 194.05 389.93 193.86 M391.32 192.18 391.52 191.94 391.87 191.52 392.22 191.09 392.56 190.67 392.91 190.24 393.26 189.82 393.60 189.40 393.94 188.97 394.29 188.54 394.63 188.12 394.70 188.04 M395.82 186.64 396.00 186.41 396.34 185.98 396.68 185.55 396.85 185.34 M398.23 183.60 398.38 183.41 398.72 182.98 399.05 182.55 399.39 182.12 399.73 181.68 400.06 181.25 400.40 180.82 400.73 180.39 401.07 179.95 401.40 179.52 401.56 179.32 M402.67 177.87 402.73 177.78 403.06 177.35 403.40 176.91 403.69 176.53 M405.04 174.73 405.04 174.73 405.37 174.29 405.70 173.86 406.03 173.42 406.35 172.98 406.68 172.54 407.01 172.10 407.33 171.66 407.66 171.22 407.98 170.78 408.31 170.34 408.34 170.30 M409.43 168.81 409.60 168.57 409.92 168.13 410.24 167.69 410.43 167.42 M411.77 165.56 411.84 165.47 412.16 165.03 412.48 164.58 412.79 164.14 413.11 163.69 413.43 163.24 413.74 162.80 414.06 162.35 414.38 161.90 414.69 161.46 415.01 161.01 415.02 160.99 M416.10 159.44 416.26 159.22 416.57 158.77 416.88 158.32 417.09 158.01 M418.41 156.10 418.43 156.06 418.74 155.61 419.05 155.16 419.36 154.71 419.67 154.26 419.97 153.80 420.28 153.35 420.59 152.90 420.89 152.44 421.20 151.99 421.50 151.54 421.61 151.37 M422.67 149.78 422.72 149.72 423.02 149.26 423.32 148.80 423.62 148.35 423.65 148.31 M424.95 146.33 425.13 146.06 425.43 145.60 425.72 145.14 426.02 144.69 426.32 144.23 426.62 143.77 426.92 143.31 427.21 142.85 427.51 142.39 427.80 141.93 428.10 141.47 428.10 141.46 M429.15 139.82 429.27 139.62 429.57 139.16 429.86 138.70 430.11 138.30 M431.39 136.26 431.61 135.91 431.90 135.45 432.19 134.98 432.47 134.52 432.76 134.05 433.05 133.59 433.34 133.12 433.62 132.66 433.91 132.19 434.20 131.72 434.48 131.26 434.49 131.24 M435.52 129.56 435.62 129.39 435.90 128.92 436.19 128.45 436.46 127.99 M437.72 125.89 437.88 125.63 438.16 125.16 438.44 124.69 438.71 124.22 438.99 123.75 439.27 123.28 439.55 122.80 439.83 122.33 440.10 121.86 440.38 121.39 440.66 120.92 440.77 120.73 M441.77 118.99 442.03 118.55 442.31 118.07 442.58 117.60 442.70 117.38 M443.94 115.22 443.94 115.22 444.21 114.75 444.48 114.27 444.75 113.79 445.02 113.32 445.29 112.84 445.56 112.36 445.83 111.88 446.09 111.41 446.36 110.93 446.63 110.45 446.89 109.97 446.93 109.91 M447.92 108.13 447.96 108.06 448.22 107.58 448.49 107.10 448.75 106.62 448.83 106.47 M450.04 104.25 450.06 104.21 450.32 103.73 450.58 103.25 450.85 102.77 451.11 102.28 451.37 101.80 451.62 101.32 451.88 100.84 452.14 100.35 452.40 99.87 452.66 99.39 452.91 98.90 452.97 98.80 M453.94 96.97 454.20 96.48 454.45 96.00 454.70 95.51 454.83 95.27 M456.02 92.99 456.22 92.59 456.47 92.11 456.73 91.62 456.98 91.13 457.23 90.65 457.48 90.16 457.73 89.67 457.98 89.18 458.23 88.70 458.47 88.21 458.72 87.72 458.89 87.39 M459.84 85.51 459.96 85.27 460.20 84.78 460.45 84.29 460.69 83.80 460.71 83.76 M461.87 81.43 461.91 81.35 462.15 80.86 462.40 80.37 462.64 79.88 462.88 79.38 463.12 78.89 463.36 78.40 463.60 77.91 463.84 77.41 464.08 76.92 464.32 76.43 464.56 75.94 464.68 75.69 M465.61 73.76 465.75 73.47 465.99 72.97 466.22 72.48 466.46 71.98 466.46 71.97 M467.60 69.58 467.63 69.51 467.86 69.01 468.10 68.52 468.33 68.02 468.56 67.52 468.79 67.03 469.03 66.53 469.26 66.04 469.49 65.54 469.72 65.04 469.95 64.54 470.18 64.05 470.34 63.70 M471.24 61.73 471.32 61.56 471.55 61.06 471.78 60.56 472.00 60.06 472.08 59.90 M473.19 57.45 473.35 57.07 473.58 56.57 473.80 56.07 474.03 55.57 474.25 55.07 474.47 54.57 474.69 54.07 474.92 53.57 475.14 53.07 475.36 52.57 475.58 52.07 475.80 51.56 475.86 51.43 M476.74 49.41 476.90 49.06 477.12 48.55 477.12 48.55" fill="none" stroke="#A2142F" stroke-width="1.45"/>
<path d="M269.93 292.11 270.36 291.90 270.85 291.67 271.35 291.44 271.84 291.20 272.34 290.96 272.83 290.72 273.32 290.48 273.73 290.28 M275.00 289.66 275.29 289.51 275.78 289.27 276.17 289.07 M277.72 288.28 277.73 288.27 278.22 288.02 278.70 287.77 279.19 287.52 279.67 287.26 280.16 287.01 280.64 286.75 281.12 286.49 281.51 286.29 M282.77 285.60 283.04 285.45 283.52 285.19 283.93 284.96 M285.47 284.10 285.91 283.86 286.39 283.59 286.86 283.32 287.34 283.05 287.81 282.77 288.28 282.50 288.76 282.23 289.23 281.95 289.24 281.94 M290.49 281.21 290.64 281.12 291.11 280.84 291.58 280.56 291.65 280.52 M293.19 279.59 293.45 279.43 293.92 279.14 294.39 278.86 294.85 278.57 295.32 278.28 295.78 278.00 296.24 277.71 296.71 277.42 296.93 277.28 M298.18 276.49 298.56 276.25 299.02 275.95 299.32 275.75 M300.86 274.76 301.31 274.47 301.77 274.17 302.22 273.87 302.68 273.57 303.14 273.26 303.59 272.96 304.05 272.66 304.50 272.35 304.58 272.30 M305.82 271.47 305.86 271.44 306.31 271.13 306.76 270.82 306.96 270.69 M308.48 269.64 308.57 269.58 309.02 269.27 309.47 268.96 309.91 268.64 310.36 268.33 310.81 268.02 311.26 267.70 311.70 267.38 312.15 267.07 312.18 267.04 M313.42 266.16 313.48 266.11 313.93 265.79 314.37 265.47 314.55 265.34 M316.07 264.24 316.14 264.19 316.58 263.86 317.02 263.54 317.46 263.21 317.90 262.89 318.34 262.56 318.78 262.23 319.22 261.91 319.66 261.58 319.75 261.51 M320.97 260.58 321.40 260.26 321.84 259.93 322.10 259.72 M323.60 258.57 324.01 258.26 324.44 257.92 324.87 257.58 325.30 257.25 325.73 256.91 326.16 256.57 326.59 256.23 327.02 255.89 327.26 255.70 M328.48 254.73 328.74 254.53 329.16 254.18 329.59 253.84 329.60 253.83 M331.10 252.62 331.29 252.46 331.72 252.11 332.14 251.77 332.56 251.42 332.99 251.07 333.41 250.72 333.83 250.37 334.25 250.02 334.67 249.67 334.73 249.62 M335.94 248.61 336.35 248.26 336.77 247.91 337.05 247.67 M338.54 246.40 338.85 246.13 339.27 245.77 339.68 245.41 340.10 245.05 340.51 244.69 340.92 244.33 341.34 243.97 341.75 243.61 342.15 243.26 M343.35 242.21 343.40 242.16 343.80 241.80 344.21 241.43 344.45 241.22 M345.93 239.90 346.25 239.60 346.66 239.23 347.07 238.87 347.47 238.50 347.88 238.13 348.28 237.76 348.69 237.39 349.09 237.01 349.49 236.64 349.51 236.63 M350.70 235.52 350.70 235.52 351.10 235.15 351.50 234.78 351.80 234.50 M353.26 233.12 353.50 232.89 353.90 232.52 354.29 232.14 354.69 231.76 355.09 231.38 355.48 231.00 355.88 230.62 356.27 230.24 356.67 229.86 356.81 229.71 M358.00 228.56 358.24 228.33 358.63 227.94 359.02 227.56 359.08 227.50 M360.53 226.06 360.58 226.01 360.97 225.63 361.36 225.24 361.75 224.85 362.14 224.46 362.52 224.08 362.91 223.69 363.29 223.30 363.68 222.91 364.06 222.52 M365.23 221.32 365.60 220.95 365.98 220.55 366.31 220.21 M367.75 218.72 367.89 218.58 368.27 218.18 368.65 217.79 369.02 217.39 369.40 216.99 369.78 216.59 370.16 216.19 370.53 215.80 370.91 215.40 371.24 215.04 M372.40 213.80 372.41 213.79 372.78 213.39 373.15 212.99 373.47 212.65 M374.89 211.10 375.01 210.97 375.38 210.57 375.75 210.16 376.12 209.76 376.49 209.35 376.86 208.95 377.23 208.54 377.59 208.13 377.96 207.73 378.33 207.32 378.35 207.29 M379.50 206.00 379.78 205.68 380.15 205.27 380.51 204.86 380.56 204.80 M381.97 203.20 382.32 202.80 382.68 202.39 383.04 201.98 383.40 201.56 383.76 201.15 384.11 200.73 384.47 200.32 384.83 199.90 385.19 199.49 385.40 199.24 M386.53 197.91 386.61 197.82 386.96 197.40 387.32 196.99 387.58 196.67 M388.98 195.01 389.08 194.89 389.43 194.47 389.78 194.05 390.13 193.63 390.48 193.21 390.83 192.78 391.18 192.36 391.52 191.94 391.87 191.52 392.22 191.09 392.36 190.91 M393.49 189.53 393.60 189.40 393.94 188.97 394.29 188.54 394.53 188.25 M395.91 186.53 396.00 186.41 396.34 185.98 396.68 185.55 397.02 185.13 397.36 184.70 397.70 184.27 398.04 183.84 398.38 183.41 398.72 182.98 399.05 182.55 399.25 182.29 M400.37 180.86 400.40 180.82 400.73 180.39 401.07 179.95 401.39 179.54 M402.75 177.76 403.06 177.35 403.40 176.91 403.73 176.48 404.06 176.04 404.39 175.61 404.71 175.17 405.04 174.73 405.37 174.29 405.70 173.86 406.03 173.42 406.06 173.38 M407.16 171.90 407.33 171.66 407.66 171.22 407.98 170.78 408.17 170.53 M409.51 168.69 409.60 168.57 409.92 168.13 410.24 167.69 410.56 167.25 410.88 166.80 411.20 166.36 411.52 165.92 411.84 165.47 412.16 165.03 412.48 164.58 412.78 164.16 M413.86 162.64 414.06 162.35 414.38 161.90 414.69 161.46 414.86 161.22 M416.18 159.33 416.26 159.22 416.57 158.77 416.88 158.32 417.19 157.87 417.50 157.42 417.81 156.97 418.12 156.52 418.43 156.06 418.74 155.61 419.05 155.16 419.36 154.71 419.40 154.65 M420.47 153.08 420.59 152.90 420.89 152.44 421.20 151.99 421.45 151.62 M422.76 149.66 423.02 149.26 423.32 148.80 423.62 148.35 423.93 147.89 424.23 147.43 424.53 146.98 424.83 146.52 425.13 146.06 425.43 145.60 425.72 145.14 425.92 144.84 M426.97 143.22 427.21 142.85 427.51 142.39 427.80 141.93 427.94 141.71 M429.23 139.69 429.27 139.62 429.57 139.16 429.86 138.70 430.15 138.23 430.44 137.77 430.74 137.31 431.03 136.84 431.32 136.38 431.61 135.91 431.90 135.45 432.19 134.98 432.35 134.73 M433.38 133.05 433.62 132.66 433.91 132.19 434.20 131.72 434.33 131.50 M435.60 129.43 435.62 129.39 435.90 128.92 436.19 128.45 436.47 127.98 436.75 127.51 437.03 127.04 437.31 126.57 437.60 126.10 437.88 125.63 438.16 125.16 438.44 124.69 438.66 124.31 M439.67 122.59 439.83 122.33 440.10 121.86 440.38 121.39 440.61 121.00 M441.85 118.86 442.03 118.55 442.31 118.07 442.58 117.60 442.85 117.12 443.12 116.65 443.40 116.17 443.67 115.70 443.94 115.22 444.21 114.75 444.48 114.27 444.75 113.79 444.86 113.60 M445.86 111.83 446.09 111.41 446.36 110.93 446.63 110.45 446.77 110.19 M447.99 107.99 448.22 107.58 448.49 107.10 448.75 106.62 449.01 106.14 449.28 105.65 449.54 105.17 449.80 104.69 450.06 104.21 450.32 103.73 450.58 103.25 450.85 102.77 450.94 102.58 M451.92 100.77 452.14 100.35 452.40 99.87 452.66 99.39 452.82 99.08 M454.01 96.82 454.20 96.48 454.45 96.00 454.70 95.51 454.96 95.03 455.21 94.54 455.47 94.05 455.72 93.57 455.97 93.08 456.22 92.59 456.47 92.11 456.73 91.62 456.91 91.27 M457.86 89.41 457.98 89.18 458.23 88.70 458.47 88.21 458.72 87.72 458.74 87.68 M459.91 85.36 459.96 85.27 460.20 84.78 460.45 84.29 460.69 83.80 460.94 83.31 461.18 82.82 461.43 82.33 461.67 81.84 461.91 81.35 462.15 80.86 462.40 80.37 462.64 79.88 462.74 79.67 M463.68 77.76 463.84 77.41 464.08 76.92 464.32 76.43 464.54 75.98 M465.68 73.61 465.75 73.47 465.99 72.97 466.22 72.48 466.46 71.98 466.69 71.49 466.93 70.99 467.16 70.50 467.40 70.00 467.63 69.51 467.86 69.01 468.10 68.52 468.33 68.02 468.44 67.78 M469.36 65.82 469.49 65.54 469.72 65.04 469.95 64.54 470.18 64.05 470.20 64.00 M471.31 61.57 471.32 61.56 471.55 61.06 471.78 60.56 472.00 60.06 472.23 59.56 472.45 59.07 472.68 58.57 472.91 58.07 473.13 57.57 473.35 57.07 473.58 56.57 473.80 56.07 474.01 55.60 M474.90 53.60 474.92 53.57 475.14 53.07 475.36 52.57 475.58 52.07 475.72 51.74 M476.81 49.25 476.90 49.06 477.12 48.55 477.12 48.55" fill="none" stroke="#A2142F" stroke-width="1.45"/>
<path d="M368.81 198.97 369.86 197.73 370.91 196.48 371.96 195.23 373.00 193.99 374.05 192.74 375.09 191.49 376.13 190.24 377.18 188.99 378.21 187.74 379.25 186.49 380.29 185.23 381.32 183.98 382.35 182.72 383.39 181.46 384.41 180.20 385.44 178.94 386.46 177.68 387.49 176.41 388.50 175.14 389.52 173.87 390.54 172.60 391.55 171.33 392.56 170.05 393.56 168.78 394.57 167.50 395.57 166.21 396.56 164.93 397.56 163.64 398.55 162.35 399.54 161.06 400.52 159.77 401.51 158.47 402.49 157.17 403.46 155.87 404.44 154.57 405.41 153.26 406.38 151.96 407.35 150.65 408.32 149.34 409.28 148.03 410.25 146.72 411.21 145.40 412.17 144.09 413.13 142.77 414.09 141.45 415.04 140.14 416.00 138.82 416.95 137.50 417.90 136.18 418.85 134.86 419.80 133.53 420.75 132.21 421.70 130.89 422.65 129.56 423.60 128.24 424.55 126.92 425.50 125.59 426.45 124.27 427.40 122.95 428.34 121.62 429.29 120.30 430.24 118.97 431.19 117.65 432.13 116.32 433.08 115.00 434.03 113.67 434.97 112.35 435.92 111.02 436.86 109.70 437.80 108.37 438.74 107.04 439.68 105.71 440.62 104.38 441.56 103.05 442.50 101.72 443.43 100.39 444.37 99.06 445.30 97.72 446.23 96.39 447.16 95.05 448.09 93.72 449.02 92.38 449.94 91.04 450.86 89.70 451.78 88.36 452.70 87.01 453.61 85.67 454.53 84.32 455.44 82.97 456.35 81.62 457.25 80.27 458.16 78.92 459.06 77.57 459.96 76.21 460.85 74.85 461.74 73.49 462.63 72.13 463.52 70.76 464.40 69.40 465.28 68.03 466.16 66.66 467.03 65.28 467.90 63.91 468.77 62.53 469.63 61.15 470.49 59.77 471.35 58.38" fill="none" stroke="#A2142F" stroke-width="1.80" stroke-linecap="round" stroke-linejoin="round"/>
<path d="M384.80 199.94 385.87 198.69 386.94 197.43 388.00 196.17 389.06 194.91 390.12 193.64 391.17 192.37 392.21 191.10 393.25 189.82 394.29 188.54 395.32 187.26 396.35 185.97 397.37 184.68 398.39 183.39 399.41 182.09 400.42 180.79 401.43 179.49 402.43 178.18 403.43 176.87 404.42 175.56 405.41 174.24 406.40 172.92 407.38 171.60 408.35 170.28 409.33 168.95 410.29 167.62 411.26 166.28 412.22 164.94 413.17 163.60 414.13 162.26 415.07 160.91 416.02 159.56 416.96 158.21 417.89 156.86 418.82 155.50 419.75 154.14 420.67 152.77 421.59 151.41 422.51 150.04 423.42 148.66 424.32 147.29 425.23 145.91 426.12 144.53 427.02 143.15 427.91 141.76 428.80 140.37 429.68 138.98 430.56 137.59 431.43 136.19 432.30 134.80 433.17 133.39 434.03 131.99 434.89 130.59 435.75 129.18 436.60 127.77 437.45 126.35 438.29 124.94 439.13 123.52 439.97 122.10 440.80 120.68 441.63 119.25 442.45 117.82 443.27 116.39 444.09 114.96 444.90 113.53 445.71 112.09 446.52 110.65 447.32 109.21 448.12 107.77 448.91 106.32 449.70 104.88 450.49 103.43 451.27 101.98 452.05 100.52 452.83 99.07 453.60 97.61 454.37 96.15 455.13 94.69 455.90 93.23 456.65 91.76 457.41 90.30 458.16 88.83 458.91 87.36 459.65 85.89 460.39 84.41 461.13 82.94 461.86 81.46 462.59 79.98 463.31 78.50 464.04 77.02 464.76 75.53 465.47 74.05 466.18 72.56 466.89 71.07 467.60 69.58 468.30 68.09 469.00 66.59 469.69 65.10 470.38 63.60 471.07 62.10 471.76 60.60 472.44 59.10" fill="none" stroke="#A2142F" stroke-width="1.90" stroke-linecap="round" stroke-linejoin="round"/>
<path d="M254.92 189.03 255.91 187.77 256.90 186.50 257.89 185.23 258.87 183.96 259.86 182.69 260.84 181.42 261.82 180.14 262.80 178.87 263.77 177.59 264.75 176.32 265.73 175.04 266.70 173.76 267.68 172.48 268.65 171.20 269.62 169.92 270.59 168.64 271.56 167.36 272.54 166.08 273.50 164.80 274.47 163.52 275.44 162.23 276.41 160.95 277.38 159.66 278.35 158.38 279.31 157.09 280.28 155.81 281.24 154.52 282.20 153.23 283.16 151.94 284.12 150.65 285.08 149.36 286.04 148.07 286.99 146.77 287.95 145.48 288.90 144.18 289.85 142.88 290.80 141.58 291.74 140.28 292.68 138.98 293.62 137.68 294.56 136.37 295.50 135.06 296.43 133.75 297.36 132.44 298.29 131.13 299.22 129.82 300.14 128.50 301.06 127.18 301.98 125.86 302.89 124.54 303.80 123.21 304.71 121.89 305.61 120.56 306.51 119.22 307.41 117.89 308.30 116.56 309.20 115.22 310.09 113.88 310.97 112.54 311.86 111.20 312.74 109.86 313.62 108.51 314.50 107.16 315.38 105.82 316.25 104.47 317.13 103.12 318.00 101.77 318.87 100.42 319.74 99.06 320.60 97.71 321.47 96.35 322.33 95.00 323.20 93.64 324.06 92.28 324.92 90.93 325.78 89.57 326.64 88.21 327.50 86.85 328.36 85.49 329.22 84.13 330.08 82.77 330.93 81.41 331.79 80.05 332.65 78.69 333.50 77.33 334.36 75.97 335.21 74.60 336.07 73.24 336.92 71.88 337.77 70.51 338.62 69.15 339.47 67.79 340.32 66.42 341.17 65.05 342.02 63.69 342.87 62.32 343.71 60.95 344.55 59.58 345.40 58.21" fill="none" stroke="#000" stroke-width="1.70" stroke-linecap="round" stroke-linejoin="round"/>
<path d="M270.19 189.18 271.20 187.90 272.20 186.61 273.20 185.33 274.20 184.04 275.21 182.76 276.21 181.48 277.21 180.19 278.21 178.91 279.21 177.62 280.21 176.33 281.20 175.04 282.19 173.74 283.17 172.45 284.15 171.15 285.12 169.84 286.08 168.53 287.04 167.21 287.99 165.89 288.93 164.57 289.87 163.23 290.79 161.89 291.71 160.55 292.62 159.20 293.52 157.84 294.42 156.49 295.31 155.12 296.20 153.76 297.08 152.39 297.96 151.02 298.84 149.65 299.71 148.27 300.58 146.90 301.46 145.52 302.33 144.14 303.20 142.77 304.07 141.39 304.94 140.01 305.81 138.63 306.67 137.25 307.53 135.87 308.39 134.48 309.24 133.09 310.08 131.70 310.92 130.30 311.75 128.91 312.58 127.50 313.39 126.10 314.20 124.68 315.00 123.27 315.80 121.85 316.58 120.42 317.36 118.99 318.13 117.56 318.90 116.12 319.66 114.69 320.42 113.25 321.18 111.80 321.93 110.36 322.68 108.92 323.43 107.47 324.19 106.03 324.94 104.58 325.70 103.14 326.45 101.70 327.21 100.25 327.96 98.81 328.72 97.37 329.47 95.92 330.22 94.48 330.97 93.03 331.72 91.58 332.47 90.14 333.21 88.68 333.95 87.23 334.68 85.78 335.41 84.32 336.13 82.86 336.85 81.40 337.56 79.94 338.27 78.47 338.97 77.00 339.67 75.53 340.36 74.05 341.04 72.58 341.72 71.10 342.40 69.62 343.07 68.13 343.73 66.64 344.38 65.15 345.04 63.66 345.68 62.16 346.32 60.67 346.95 59.17" fill="none" stroke="#000" stroke-width="1.80" stroke-linecap="round" stroke-linejoin="round"/>
<path d="M358.95 300.82 360.70 300.31 362.45 299.79 364.19 299.25 365.93 298.69 367.66 298.11 369.38 297.51 371.09 296.89 372.80 296.26 374.50 295.60 376.19 294.93 377.88 294.24 379.55 293.54 381.22 292.81 382.88 292.07 384.53 291.31 386.18 290.53 387.81 289.73 389.44 288.92 391.06 288.09 392.67 287.25 394.26 286.39 395.86 285.51 397.44 284.62 399.01 283.71 400.57 282.78 402.13 281.84 403.67 280.89 405.20 279.92 406.73 278.93 408.24 277.93 409.75 276.92 411.25 275.89 412.73 274.85 414.21 273.79 415.68 272.73 417.14 271.65 418.60 270.56 420.04 269.46 421.48 268.34 422.91 267.22 424.33 266.09 425.75 264.94 427.15 263.79 428.55 262.62 429.95 261.45 431.33 260.27 432.71 259.08 434.09 257.89 435.46 256.68 436.82 255.47 438.17 254.26 439.52 253.03 440.87 251.80 442.21 250.57 443.54 249.33 444.87 248.08 446.20 246.83 447.52 245.58 448.83 244.32 450.14 243.06 451.45 241.79 452.75 240.52 454.05 239.24 455.34 237.96 456.63 236.68 457.92 235.39 459.20 234.10 460.47 232.80 461.75 231.50 463.02 230.20 464.28 228.90 465.55 227.59 466.80 226.28 468.06 224.96 469.31 223.64 470.56 222.32 471.81 221.00 473.05 219.67 474.29 218.34 475.52 217.01 476.76 215.67 477.99 214.33 479.22 212.99 480.44 211.65 481.66 210.30 482.88 208.95 484.10 207.60 485.31 206.25 486.52 204.89 487.73 203.54 488.93 202.17 490.14 200.81 491.34 199.45 492.54 198.08 493.73 196.71 494.93 195.34 496.12 193.97 497.31 192.59 498.50 191.21 499.68 189.84 500.87 188.46 502.05 187.07 503.23 185.69 504.41 184.30 505.58 182.92 506.76 181.53 507.93 180.14 509.10 178.75 510.27 177.36 511.44 175.96 512.61 174.57 513.77 173.17 514.94 171.77 516.10 170.37 517.26 168.97 518.43 167.57 519.59 166.17 520.75 164.77 521.90 163.37 523.06 161.96 524.22 160.56 525.37 159.15 526.53 157.75 527.68 156.34 528.84 154.93 529.99 153.53 531.14 152.12 532.29 150.71 533.45 149.30 534.60 147.89 535.75 146.48 536.90 145.07 538.05 143.66 539.20 142.25 540.35 140.84 541.50 139.43 542.65 138.02 543.80 136.61 544.95 135.20 546.09 133.79 547.24 132.38 548.38 130.96 549.53 129.55 550.67 128.13 551.81 126.72 552.95 125.30 554.09 123.88 555.23 122.46 556.37 121.04 557.50 119.62 558.63 118.20 559.76 116.77 560.89 115.35 562.02 113.92 563.14 112.49 564.26 111.06 565.38 109.63 566.50 108.19 567.61 106.76 568.73 105.32 569.84 103.88 570.94 102.44 572.05 100.99 573.15 99.54 574.24 98.09 575.34 96.64 576.43 95.19 577.52 93.73 578.60 92.27 579.68 90.81 580.76 89.35 581.83 87.88 582.90 86.41 583.97 84.94 585.03 83.46 586.09 81.99 587.15 80.50 588.20 79.02 589.25 77.54 590.30 76.05 591.34 74.57 592.39 73.08 593.44 71.59 594.48 70.10 595.53 68.62 596.58 67.13 597.63 65.64 598.68 64.16 599.74 62.68 600.79 61.20 601.85 59.72 602.92 58.25 603.99 56.78 605.06 55.31 606.14 53.85 607.22 52.39 608.31 50.93 609.41 49.48 610.51 48.03" fill="none" stroke="#0072BD" stroke-width="1.35" stroke-linejoin="round"/>
<path d="M392.31 292.71 393.88 292.11 395.41 291.45 396.91 290.74 398.37 289.97 399.81 289.17 401.22 288.32 402.61 287.44 403.98 286.52 405.33 285.58 406.67 284.61 407.99 283.62 409.30 282.61 410.61 281.59 411.91 280.57 413.20 279.53 414.50 278.50 415.79 277.46 417.08 276.42 418.37 275.38 419.66 274.33 420.94 273.28 422.22 272.22 423.50 271.17 424.78 270.10 426.05 269.04 427.32 267.97 428.59 266.90 429.85 265.82 431.11 264.74 432.37 263.65 433.62 262.56 434.87 261.47 436.11 260.37 437.36 259.27 438.59 258.16 439.83 257.05 441.05 255.94 442.28 254.82 443.50 253.69 444.72 252.56 445.93 251.43 447.14 250.30 448.34 249.16 449.54 248.01 450.74 246.86 451.93 245.71 453.12 244.55 454.31 243.39 455.49 242.23 456.66 241.06 457.84 239.89 459.01 238.71 460.17 237.53 461.34 236.35 462.49 235.16 463.65 233.97 464.80 232.78 465.95 231.58 467.09 230.38 468.23 229.17 469.37 227.97 470.50 226.75 471.63 225.54 472.75 224.32 473.87 223.10 474.99 221.87 476.11 220.64 477.22 219.41 478.32 218.18 479.43 216.94 480.53 215.70 481.63 214.45 482.72 213.21 483.81 211.96 484.91 210.71 485.99 209.46 487.08 208.21 488.17 206.95 489.25 205.69 490.34 204.44 491.42 203.18 492.50 201.92 493.58 200.66 494.66 199.40 495.74 198.14 496.83 196.89 497.91 195.63 498.99 194.37 500.07 193.11 501.16 191.85 502.24 190.60 503.33 189.35 504.42 188.09 505.51 186.84 506.60 185.59 507.70 184.35 508.80 183.10 509.89 181.86 510.99 180.61 512.09 179.37 513.19 178.12 514.28 176.88 515.37 175.63 516.46 174.38 517.54 173.12 518.62 171.86 519.69 170.59 520.76 169.32 521.81 168.05 522.86 166.76 523.90 165.47 524.93 164.17 525.95 162.86 526.96 161.55 527.96 160.23 528.95 158.90 529.94 157.57 530.93 156.24 531.92 154.90 532.90 153.57 533.88 152.23 534.87 150.89 535.86 149.56 536.85 148.23 537.85 146.90 538.85 145.58 539.86 144.27 540.88 142.96 541.91 141.66 542.94 140.36 543.98 139.06 545.02 137.77 546.06 136.49 547.11 135.20 548.17 133.92 549.22 132.63 550.27 131.35 551.33 130.07 552.38 128.79 553.43 127.51 554.48 126.22 555.53 124.93 556.57 123.64 557.61 122.35 558.65 121.05 559.68 119.75 560.70 118.45 561.73 117.15 562.75 115.84 563.76 114.53 564.78 113.21 565.79 111.89 566.79 110.57 567.79 109.25 568.79 107.93 569.78 106.60 570.77 105.27 571.76 103.93 572.74 102.59 573.72 101.25 574.69 99.91 575.66 98.57 576.63 97.22 577.59 95.87 578.55 94.51 579.51 93.16 580.46 91.80 581.41 90.44 582.35 89.07 583.29 87.70 584.23 86.33 585.16 84.96 586.09 83.59 587.01 82.21 587.94 80.83 588.86 79.45 589.78 78.07 590.69 76.69 591.61 75.30 592.53 73.92 593.45 72.54 594.36 71.16 595.28 69.78 596.20 68.40 597.13 67.02 598.05 65.64 598.99 64.27 599.92 62.90 600.86 61.53 601.80 60.17 602.75 58.81 603.71 57.45 604.67 56.10 605.63 54.75 606.61 53.41 607.59 52.07 608.59 50.74 609.59 49.42 610.60 48.10" fill="none" stroke="#0072BD" stroke-width="1.60" stroke-linejoin="round"/>
<path d="M392.35 292.80 393.91 292.17 395.46 291.51 397.01 290.84 398.54 290.16 400.07 289.45 401.59 288.73 403.10 287.99 404.60 287.24 406.09 286.47 407.58 285.69 409.06 284.90 410.54 284.09 412.01 283.27 413.47 282.44 414.93 281.60 416.38 280.75 417.82 279.90 419.27 279.03 420.70 278.15 422.14 277.27 423.56 276.37 424.99 275.47 426.40 274.57 427.82 273.65 429.23 272.73 430.64 271.80 432.04 270.86 433.44 269.92 434.83 268.97 436.22 268.02 437.61 267.06 438.99 266.09 440.37 265.12 441.75 264.15 443.12 263.17 444.49 262.18 445.86 261.19 447.22 260.20 448.58 259.20 449.94 258.20 451.30 257.20 452.65 256.19 454.00 255.18 455.34 254.16 456.69 253.14 458.03 252.12 459.36 251.09 460.70 250.06 462.03 249.02 463.35 247.98 464.68 246.94 465.99 245.89 467.31 244.83 468.62 243.78 469.93 242.71 471.24 241.65 472.54 240.58 473.83 239.50 475.13 238.42 476.42 237.34 477.70 236.25 478.98 235.16 480.26 234.06 481.53 232.96 482.80 231.85 484.07 230.74 485.33 229.62 486.58 228.50 487.84 227.37 489.08 226.24 490.33 225.11 491.56 223.97 492.80 222.82 494.03 221.67 495.25 220.51 496.47 219.35 497.69 218.19 498.90 217.02 500.10 215.84 501.30 214.66 502.50 213.48 503.69 212.29 504.88 211.09 506.06 209.89 507.23 208.69 508.41 207.48 509.57 206.26 510.74 205.04 511.89 203.82 513.05 202.59 514.20 201.36 515.34 200.12 516.48 198.88 517.61 197.63 518.74 196.38 519.87 195.13 520.98 193.87 522.10 192.61 523.21 191.34 524.32 190.07 525.42 188.79 526.51 187.51 527.60 186.22 528.69 184.93 529.77 183.64 530.85 182.34 531.92 181.04 532.99 179.74 534.05 178.43 535.10 177.11 536.16 175.80 537.20 174.48 538.25 173.15 539.29 171.82 540.32 170.49 541.35 169.15 542.37 167.81 543.39 166.47 544.40 165.12 545.41 163.77 546.42 162.41 547.42 161.06 548.41 159.69 549.40 158.33 550.39 156.96 551.37 155.59 552.34 154.21 553.31 152.83 554.28 151.45 555.24 150.06 556.20 148.68 557.15 147.28 558.10 145.89 559.04 144.49 559.97 143.09 560.91 141.68 561.83 140.27 562.76 138.86 563.67 137.45 564.59 136.03 565.49 134.61 566.40 133.19 567.30 131.76 568.19 130.33 569.08 128.90 569.96 127.47 570.84 126.03 571.71 124.59 572.58 123.15 573.45 121.70 574.31 120.26 575.16 118.81 576.01 117.35 576.86 115.90 577.70 114.44 578.54 112.98 579.37 111.52 580.20 110.05 581.03 108.59 581.85 107.12 582.67 105.65 583.48 104.17 584.30 102.70 585.10 101.22 585.91 99.74 586.71 98.26 587.51 96.78 588.30 95.29 589.10 93.81 589.89 92.32 590.67 90.83 591.46 89.34 592.24 87.85 593.02 86.35 593.80 84.86 594.57 83.36 595.34 81.86 596.11 80.36 596.88 78.86 597.64 77.35 598.39 75.85 599.14 74.34 599.89 72.82 600.63 71.31 601.36 69.79 602.09 68.27 602.80 66.75 603.51 65.22 604.22 63.69 604.91 62.15 605.59 60.61 606.26 59.07 606.93 57.52 607.58 55.97 608.22 54.41 608.85 52.84 609.46 51.28 610.07 49.70 610.66 48.13" fill="none" stroke="#0072BD" stroke-width="1.45" stroke-linejoin="round"/>
<path d="M392.43 292.71 393.96 292.11 395.51 291.45 397.08 290.74 398.65 289.97 400.24 289.17 401.82 288.32" fill="none" stroke="#0072BD" stroke-width="2.40" stroke-linecap="round"/>
<path d="M268.51 292.65 269.94 292.04 271.39 291.38 272.86 290.67 274.34 289.93 275.83 289.15 277.33 288.34" fill="none" stroke="#A2142F" stroke-width="2.10" stroke-linecap="round"/>
<path d="M148.20 292.44 149.59 291.71 151.07 290.96 152.55 290.19 154.04 289.40 155.54 288.59 157.03 287.77" fill="none" stroke="#000" stroke-width="2.40" stroke-linecap="round"/>
<path d="M351.7 47.8 L350.6 56.6 L346.5 55.8 Z" fill="#000"/>
<path d="M477.7 47.8 L475.9 56.8 L471.4 56.0 Z" fill="#A2142F"/>
<line x1="497.60" y1="197.40" x2="581.10" y2="90.90" stroke="#000" stroke-width="3.8" stroke-dasharray="10 10.35"/>
<circle cx="497.60" cy="197.40" r="1.9" fill="#0a64a8" stroke="#000" stroke-width="2.2"/>
<circle cx="581.10" cy="90.90" r="1.9" fill="#0a64a8" stroke="#000" stroke-width="2.2"/>
</g>
<g>
<path d="M43.05 6.00 H673.50 V303.30 H43.05 Z" fill="none" stroke="#262626" stroke-width="0.65"/>
<path d="M121.86 303.30 V297.00 M121.86 6.00 V12.30" stroke="#262626" stroke-width="0.65"/>
<path d="M200.66 303.30 V297.00 M200.66 6.00 V12.30" stroke="#262626" stroke-width="0.65"/>
<path d="M279.47 303.30 V297.00 M279.47 6.00 V12.30" stroke="#262626" stroke-width="0.65"/>
<path d="M358.27 303.30 V297.00 M358.27 6.00 V12.30" stroke="#262626" stroke-width="0.65"/>
<path d="M437.08 303.30 V297.00 M437.08 6.00 V12.30" stroke="#262626" stroke-width="0.65"/>
<path d="M515.89 303.30 V297.00 M515.89 6.00 V12.30" stroke="#262626" stroke-width="0.65"/>
<path d="M594.69 303.30 V297.00 M594.69 6.00 V12.30" stroke="#262626" stroke-width="0.65"/>
<path d="M43.05 260.83 H49.35 M673.50 260.83 H667.20" stroke="#262626" stroke-width="0.65"/>
<path d="M43.05 218.36 H49.35 M673.50 218.36 H667.20" stroke="#262626" stroke-width="0.65"/>
<path d="M43.05 175.88 H49.35 M673.50 175.88 H667.20" stroke="#262626" stroke-width="0.65"/>
<path d="M43.05 133.41 H49.35 M673.50 133.41 H667.20" stroke="#262626" stroke-width="0.65"/>
<path d="M43.05 90.94 H49.35 M673.50 90.94 H667.20" stroke="#262626" stroke-width="0.65"/>
<path d="M43.05 48.47 H49.35 M673.50 48.47 H667.20" stroke="#262626" stroke-width="0.65"/>
</g>
<g>
<text x="43.05" y="325.2" font-size="16" text-anchor="middle" fill="#262626" font-family="Liberation Sans, sans-serif">-0.4</text>
<text x="121.86" y="325.2" font-size="16" text-anchor="middle" fill="#262626" font-family="Liberation Sans, sans-serif">-0.3</text>
<text x="200.66" y="325.2" font-size="16" text-anchor="middle" fill="#262626" font-family="Liberation Sans, sans-serif">-0.2</text>
<text x="279.47" y="325.2" font-size="16" text-anchor="middle" fill="#262626" font-family="Liberation Sans, sans-serif">-0.1</text>
<text x="358.27" y="325.2" font-size="16" text-anchor="middle" fill="#262626" font-family="Liberation Sans, sans-serif">0</text>
<text x="437.08" y="325.2" font-size="16" text-anchor="middle" fill="#262626" font-family="Liberation Sans, sans-serif">0.1</text>
<text x="515.89" y="325.2" font-size="16" text-anchor="middle" fill="#262626" font-family="Liberation Sans, sans-serif">0.2</text>
<text x="594.69" y="325.2" font-size="16" text-anchor="middle" fill="#262626" font-family="Liberation Sans, sans-serif">0.3</text>
<text x="673.50" y="325.2" font-size="16" text-anchor="middle" fill="#262626" font-family="Liberation Sans, sans-serif">0.4</text>
<text x="37.7" y="309.40" font-size="16" text-anchor="end" fill="#262626" font-family="Liberation Sans, sans-serif">0</text>
<text x="37.7" y="266.93" font-size="16" text-anchor="end" fill="#262626" font-family="Liberation Sans, sans-serif">2</text>
<text x="37.7" y="224.46" font-size="16" text-anchor="end" fill="#262626" font-family="Liberation Sans, sans-serif">4</text>
<text x="37.7" y="181.98" font-size="16" text-anchor="end" fill="#262626" font-family="Liberation Sans, sans-serif">6</text>
<text x="37.7" y="139.51" font-size="16" text-anchor="end" fill="#262626" font-family="Liberation Sans, sans-serif">8</text>
<text x="37.7" y="97.04" font-size="16" text-anchor="end" fill="#262626" font-family="Liberation Sans, sans-serif">10</text>
<text x="37.7" y="54.57" font-size="16" text-anchor="end" fill="#262626" font-family="Liberation Sans, sans-serif">12</text>
<text x="37.7" y="12.10" font-size="16" text-anchor="end" fill="#262626" font-family="Liberation Sans, sans-serif">14</text>
<text x="358.3" y="347.8" font-size="17.8" text-anchor="middle" fill="#262626" font-family="Liberation Sans, sans-serif">Normal displacement [mm]</text>
<text transform="translate(13.6 153.75) rotate(-90)" x="0" y="0" font-size="17.8" text-anchor="middle" fill="#262626" font-family="Liberation Sans, sans-serif">Normal stress [MPa]</text>
<text x="62.6" y="36.4" font-size="16.2" fill="#000" font-family="Liberation Sans, sans-serif">Evaluation position:</text>
<text x="63.2" y="56.7" font-size="16.2" fill="#000" font-family="Liberation Sans, sans-serif">shear displacement</text>
<rect x="65.1" y="66" width="74.4" height="66.3" fill="#fff" stroke="#262626" stroke-width="0.65"/>
<line x1="67.2" y1="77.6" x2="87.2" y2="77.6" stroke="#0072BD" stroke-width="1.3"/>
<line x1="67.2" y1="99.45" x2="87.2" y2="99.45" stroke="#A2142F" stroke-width="1.3" stroke-dasharray="3.9 1.3 1.2 1.6"/>
<line x1="67.2" y1="121.3" x2="87.2" y2="121.3" stroke="#000" stroke-width="1.3" stroke-dasharray="3.6 4.4"/>
<text x="92.8" y="83.3" font-size="14.5" fill="#000" font-family="Liberation Sans, sans-serif">0 mm</text>
<text x="92.8" y="104.9" font-size="14.5" fill="#000" font-family="Liberation Sans, sans-serif">5 mm</text>
<text x="92.8" y="126.5" font-size="14.5" fill="#000" font-family="Liberation Sans, sans-serif">10 mm</text>
</g>
</svg>
</body></html>
